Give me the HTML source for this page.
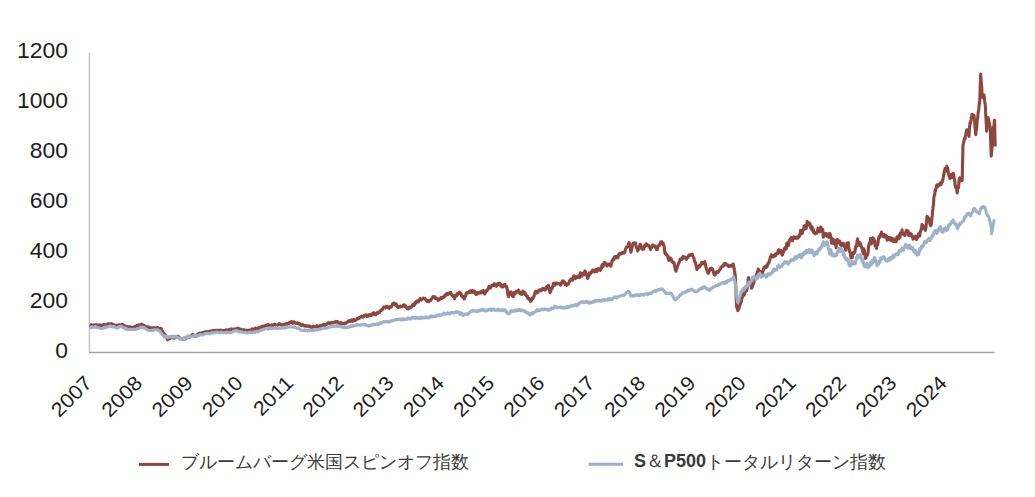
<!DOCTYPE html>
<html><head><meta charset="utf-8"><style>
html,body{margin:0;padding:0;background:#fff;}
body{width:1035px;height:497px;overflow:hidden;}
svg{display:block;font-family:"Liberation Sans",sans-serif;}
.yl text{font-size:22px;fill:#1e1e1e;}
.xl text{font-size:20px;fill:#1e1e1e;}
.lg{font-size:18px;fill:#3a3a3a;}
</style></head><body>
<svg width="1035" height="497" viewBox="0 0 1035 497">
<rect width="1035" height="497" fill="#fff"/>
<line x1="89.4" y1="53" x2="89.4" y2="352" stroke="#c4c4c4" stroke-width="1.5"/>
<line x1="89" y1="352.4" x2="994.5" y2="352.4" stroke="#a4a4a4" stroke-width="1.5"/>
<polyline fill="none" stroke="#8e463e" stroke-width="3.1" stroke-linejoin="round" stroke-linecap="butt" points="90.00,325.5 90.25,325.4 90.50,325.8 90.75,326.0 91.00,325.1 91.25,324.7 91.50,324.8 91.75,324.8 92.00,325.0 92.25,325.2 92.50,325.7 92.75,325.3 93.00,325.2 93.25,325.7 93.50,325.7 93.75,325.7 94.00,325.5 94.25,324.9 94.50,325.0 94.75,325.0 95.00,325.0 95.25,324.9 95.50,324.9 95.75,325.2 96.00,324.7 96.25,324.8 96.50,325.2 96.75,325.1 97.00,324.9 97.25,325.2 97.50,325.3 97.75,325.6 98.00,325.4 98.25,325.1 98.50,325.1 98.75,325.1 99.00,325.4 99.25,325.5 99.50,325.1 99.75,324.9 100.00,325.3 100.25,325.5 100.50,325.4 100.75,325.4 101.00,325.2 101.25,325.1 101.50,325.1 101.75,325.4 102.00,325.3 102.25,325.3 102.50,325.3 102.75,325.1 103.00,324.9 103.25,324.7 103.50,324.8 103.75,324.5 104.00,324.3 104.25,324.8 104.50,324.8 104.75,324.8 105.00,325.0 105.25,324.9 105.50,324.8 105.75,324.9 106.00,324.8 106.25,324.6 106.50,324.8 106.75,324.5 107.00,324.3 107.25,324.1 107.50,324.1 107.75,324.6 108.00,324.3 108.25,324.3 108.50,323.8 108.75,323.9 109.00,324.2 109.25,324.2 109.50,324.0 109.75,323.9 110.00,324.2 110.25,324.4 110.50,324.8 110.75,324.6 111.00,324.7 111.25,323.8 111.50,324.0 111.75,323.7 112.00,324.2 112.25,324.3 112.50,324.6 112.75,324.3 113.00,324.9 113.25,325.4 113.50,325.0 113.75,325.1 114.00,325.0 114.25,325.1 114.50,324.9 114.75,325.4 115.00,325.4 115.25,325.4 115.50,325.6 115.75,325.5 116.00,325.5 116.25,325.4 116.50,325.6 116.75,325.4 117.00,325.3 117.25,325.6 117.50,325.4 117.75,325.2 118.00,325.3 118.25,325.3 118.50,325.4 118.75,325.0 119.00,325.5 119.25,325.3 119.50,324.8 119.75,325.0 120.00,324.9 120.25,324.9 120.50,324.7 120.75,324.7 121.00,324.8 121.25,324.5 121.50,324.6 121.75,324.4 122.00,324.2 122.25,324.2 122.50,324.7 122.75,324.9 123.00,324.6 123.25,325.0 123.50,325.5 123.75,325.4 124.00,325.5 124.25,325.8 124.50,325.7 124.75,326.0 125.00,326.2 125.25,326.3 125.50,326.1 125.75,326.3 126.00,326.4 126.25,326.7 126.50,327.0 126.75,327.0 127.00,326.8 127.25,326.9 127.50,326.6 127.75,327.1 128.00,327.1 128.25,327.1 128.50,327.0 128.75,326.9 129.00,327.0 129.25,326.8 129.50,326.7 129.75,326.8 130.00,326.8 130.25,327.2 130.50,327.5 130.75,327.5 131.00,327.6 131.25,327.2 131.50,327.5 131.75,327.5 132.00,327.5 132.25,327.7 132.50,327.5 132.75,327.4 133.00,327.3 133.25,327.5 133.50,327.3 133.75,327.3 134.00,326.9 134.25,326.7 134.50,326.6 134.75,326.8 135.00,326.8 135.25,326.4 135.50,326.5 135.75,326.6 136.00,326.3 136.25,326.2 136.50,326.0 136.75,325.6 137.00,325.6 137.25,325.7 137.50,325.4 137.75,325.6 138.00,325.2 138.25,325.1 138.50,325.1 138.75,325.6 139.00,325.1 139.25,325.2 139.50,325.4 139.75,325.5 140.00,325.6 140.25,325.1 140.50,324.5 140.75,324.9 141.00,324.5 141.25,324.4 141.50,324.2 141.75,324.5 142.00,324.6 142.25,325.3 142.50,325.4 142.75,325.3 143.00,325.3 143.25,325.2 143.50,325.1 143.75,325.1 144.00,325.3 144.25,325.9 144.50,325.9 144.75,326.3 145.00,326.7 145.25,326.6 145.50,326.9 145.75,327.1 146.00,326.8 146.25,326.9 146.50,326.9 146.75,326.9 147.00,326.9 147.25,327.0 147.50,327.2 147.75,327.0 148.00,327.0 148.25,326.8 148.50,327.0 148.75,327.3 149.00,327.6 149.25,327.8 149.50,328.0 149.75,327.9 150.00,327.7 150.25,328.0 150.50,327.8 150.75,328.0 151.00,328.2 151.25,328.3 151.50,327.9 151.75,327.9 152.00,328.4 152.25,328.0 152.50,327.8 152.75,327.8 153.00,328.0 153.25,328.1 153.50,328.2 153.75,327.9 154.00,328.1 154.25,328.2 154.50,327.7 154.75,328.1 155.00,328.5 155.25,328.1 155.50,328.1 155.75,328.3 156.00,328.2 156.26,327.8 156.51,327.8 156.77,328.1 157.02,327.8 157.28,327.7 157.53,327.6 157.79,327.5 158.04,327.8 158.30,328.3 158.56,328.6 158.81,328.7 159.07,328.7 159.32,328.8 159.58,328.7 159.83,329.0 160.09,329.6 160.34,329.9 160.60,328.9 160.85,328.4 161.11,328.4 161.36,328.9 161.62,329.8 161.87,330.5 162.13,330.5 162.38,331.3 162.64,331.6 162.89,331.7 163.15,332.5 163.40,332.9 163.65,333.3 163.89,334.1 164.14,334.2 164.39,334.4 164.64,334.0 164.88,334.3 165.13,335.5 165.38,335.3 165.62,335.6 165.87,335.6 166.12,336.2 166.36,337.1 166.61,337.5 166.86,338.1 167.11,338.6 167.35,339.1 167.60,339.8 167.84,339.4 168.09,339.1 168.33,338.9 168.57,338.9 168.81,338.7 169.06,338.7 169.30,338.6 169.54,338.6 169.79,338.8 170.03,338.3 170.27,337.7 170.51,337.2 170.76,336.7 171.00,336.6 171.25,337.1 171.50,337.0 171.75,337.4 172.00,337.2 172.25,337.4 172.50,337.2 172.75,337.7 173.00,337.8 173.25,338.1 173.50,337.7 173.75,337.7 174.00,337.8 174.25,337.0 174.50,336.7 174.75,337.3 175.00,337.5 175.25,337.7 175.50,337.6 175.75,337.9 176.00,337.6 176.25,337.4 176.50,337.0 176.75,337.0 177.00,337.1 177.25,337.1 177.50,336.2 177.75,336.1 178.00,336.5 178.24,337.2 178.49,337.2 178.73,337.2 178.98,337.3 179.22,337.1 179.47,337.8 179.71,338.2 179.96,338.7 180.20,338.8 180.44,338.9 180.69,338.7 180.93,338.5 181.18,338.6 181.42,338.8 181.67,338.6 181.91,338.9 182.16,338.6 182.40,338.9 182.65,339.3 182.90,339.1 183.14,339.1 183.39,338.8 183.64,338.5 183.89,338.1 184.13,338.6 184.38,338.5 184.63,338.8 184.88,338.3 185.12,338.1 185.37,338.1 185.62,338.5 185.87,338.9 186.11,338.4 186.36,337.9 186.61,337.3 186.86,337.7 187.10,337.6 187.35,337.3 187.60,337.3 187.84,336.4 188.09,336.1 188.34,336.5 188.59,336.6 188.84,336.8 189.08,336.4 189.33,336.8 189.58,337.2 189.83,336.5 190.07,336.6 190.32,336.4 190.57,336.5 190.81,336.3 191.06,336.2 191.31,335.7 191.56,335.6 191.81,335.3 192.05,335.2 192.30,335.1 192.55,334.4 192.80,334.4 193.05,334.8 193.30,335.1 193.55,335.6 193.80,335.3 194.05,335.2 194.30,335.2 194.55,335.5 194.80,335.9 195.05,335.5 195.30,336.5 195.55,336.0 195.80,335.6 196.05,335.6 196.30,335.4 196.55,335.4 196.80,334.8 197.05,335.1 197.30,334.9 197.55,335.1 197.80,335.4 198.05,334.6 198.30,334.1 198.55,333.7 198.80,333.9 199.05,334.0 199.30,333.5 199.55,333.1 199.80,333.4 200.04,333.5 200.29,333.6 200.54,333.7 200.79,333.3 201.03,333.2 201.28,332.9 201.53,332.9 201.78,333.1 202.03,332.8 202.27,333.2 202.52,333.0 202.77,332.8 203.02,332.7 203.27,332.8 203.51,332.5 203.76,332.4 204.01,332.2 204.26,332.4 204.50,332.4 204.75,332.1 205.00,332.2 205.25,332.1 205.50,332.2 205.75,331.9 206.00,332.0 206.25,331.8 206.50,331.8 206.75,331.8 207.00,331.6 207.25,331.8 207.50,331.5 207.75,331.4 208.00,331.6 208.25,331.7 208.50,331.7 208.75,331.7 209.00,332.1 209.25,331.7 209.50,331.4 209.75,331.2 210.00,331.4 210.25,331.3 210.50,331.5 210.75,331.6 211.00,331.5 211.25,331.2 211.50,331.0 211.75,331.5 212.00,331.6 212.25,331.5 212.50,331.2 212.75,331.1 213.00,330.9 213.25,330.9 213.50,330.4 213.75,330.5 214.00,330.5 214.25,330.6 214.50,330.7 214.75,330.8 215.00,330.6 215.25,330.4 215.50,330.6 215.75,330.6 216.00,330.2 216.26,330.2 216.51,330.5 216.76,330.5 217.01,330.7 217.26,330.3 217.51,330.6 217.76,330.2 218.01,330.3 218.26,330.5 218.51,330.8 218.77,330.8 219.02,330.8 219.27,330.6 219.52,330.4 219.77,330.7 220.02,330.6 220.27,330.5 220.52,330.2 220.77,330.3 221.02,330.4 221.28,330.2 221.53,330.2 221.78,330.6 222.03,330.6 222.28,330.5 222.53,330.2 222.78,330.2 223.03,330.2 223.28,330.6 223.53,330.5 223.79,330.9 224.04,330.6 224.29,330.5 224.54,330.6 224.79,330.6 225.04,330.3 225.29,330.3 225.54,330.2 225.79,329.9 226.04,330.0 226.30,330.1 226.55,330.0 226.80,330.2 227.05,330.1 227.30,330.2 227.55,330.0 227.80,330.1 228.06,330.1 228.31,330.4 228.56,330.2 228.81,330.1 229.07,330.1 229.32,329.6 229.57,329.3 229.82,329.9 230.08,329.5 230.33,329.7 230.58,329.5 230.83,329.4 231.08,329.1 231.34,329.0 231.59,329.3 231.84,329.0 232.09,329.3 232.35,329.3 232.60,329.8 232.85,329.6 233.10,329.8 233.35,329.8 233.61,329.6 233.86,329.2 234.11,329.5 234.36,329.1 234.62,329.0 234.87,329.2 235.12,329.3 235.37,329.0 235.62,329.0 235.88,328.9 236.13,329.1 236.38,329.6 236.63,329.0 236.89,329.2 237.14,328.3 237.39,328.4 237.64,328.2 237.90,328.6 238.15,328.6 238.40,328.7 238.65,328.7 238.90,328.5 239.15,328.5 239.40,328.8 239.65,329.2 239.90,329.0 240.15,329.2 240.40,329.3 240.65,329.5 240.90,329.5 241.15,329.8 241.40,329.9 241.65,329.7 241.90,329.6 242.15,329.8 242.40,329.8 242.65,330.3 242.90,330.6 243.15,330.2 243.40,330.3 243.65,330.0 243.90,329.7 244.15,330.0 244.40,330.5 244.65,330.6 244.90,330.9 245.15,331.1 245.40,331.0 245.65,330.7 245.90,330.5 246.15,330.2 246.40,330.3 246.65,330.4 246.90,330.3 247.15,330.5 247.40,330.3 247.65,330.4 247.90,330.3 248.15,330.3 248.40,330.2 248.65,330.2 248.90,330.7 249.15,330.3 249.40,330.5 249.65,330.5 249.91,330.1 250.16,330.5 250.41,330.5 250.66,330.3 250.92,330.2 251.17,329.9 251.42,329.9 251.68,329.8 251.93,329.5 252.18,328.9 252.43,329.0 252.69,329.2 252.94,329.2 253.19,329.2 253.44,329.2 253.70,329.4 253.95,329.2 254.20,329.4 254.46,328.8 254.71,328.5 254.96,328.4 255.21,328.0 255.47,328.0 255.72,328.4 255.97,328.7 256.23,328.7 256.48,329.0 256.73,328.9 256.98,328.6 257.24,328.7 257.49,328.5 257.74,328.5 257.99,328.1 258.25,328.3 258.50,328.5 258.75,328.3 259.00,328.1 259.25,327.8 259.50,327.4 259.75,327.5 260.00,327.8 260.25,327.8 260.50,327.3 260.75,327.6 261.00,327.2 261.25,326.8 261.50,326.5 261.75,326.4 262.00,326.6 262.25,326.4 262.50,326.1 262.75,326.1 263.00,326.7 263.25,326.4 263.50,326.4 263.75,326.3 264.00,326.9 264.25,326.3 264.50,326.4 264.75,325.9 265.00,325.7 265.25,325.7 265.50,326.5 265.75,326.0 266.00,325.3 266.25,325.5 266.50,325.2 266.75,324.8 267.00,325.1 267.25,325.4 267.50,325.3 267.75,324.8 268.00,325.0 268.25,325.2 268.50,324.6 268.75,324.8 269.00,325.4 269.25,325.5 269.50,325.6 269.75,325.6 270.00,325.8 270.25,325.5 270.50,325.3 270.75,325.4 271.00,325.3 271.25,325.3 271.50,324.8 271.75,325.1 272.00,325.3 272.25,325.3 272.50,325.3 272.75,325.7 273.00,325.2 273.25,324.9 273.50,324.6 273.75,324.6 274.00,324.4 274.25,324.5 274.50,324.5 274.75,324.3 275.00,324.6 275.25,324.8 275.50,324.7 275.75,325.0 276.00,325.2 276.25,325.1 276.50,325.3 276.75,325.6 277.00,325.5 277.25,325.3 277.50,325.0 277.75,324.7 278.00,324.7 278.25,324.6 278.50,324.5 278.75,324.2 279.00,323.8 279.25,323.7 279.50,323.9 279.75,323.7 280.00,323.7 280.25,324.2 280.50,324.6 280.75,324.5 281.00,324.8 281.25,324.6 281.50,325.0 281.75,324.7 282.00,324.7 282.25,325.1 282.50,324.8 282.75,325.1 283.00,325.0 283.25,324.9 283.50,324.7 283.75,324.7 284.00,324.8 284.25,324.8 284.50,324.4 284.75,324.1 285.00,324.4 285.25,324.1 285.50,324.0 285.75,323.9 286.00,323.8 286.25,323.5 286.50,323.3 286.75,324.0 287.00,324.2 287.25,324.0 287.50,323.8 287.75,323.8 288.00,323.6 288.25,323.9 288.50,323.6 288.75,323.3 289.00,323.3 289.25,323.0 289.50,322.3 289.75,322.5 290.00,322.5 290.25,322.6 290.50,322.4 290.75,322.5 291.00,322.6 291.25,322.1 291.50,321.5 291.75,321.7 292.00,322.1 292.25,322.8 292.50,322.8 292.75,323.3 293.00,323.0 293.25,322.4 293.50,322.1 293.75,321.9 294.00,321.8 294.25,322.0 294.50,322.6 294.75,322.9 295.00,323.1 295.25,323.0 295.50,322.9 295.75,322.9 296.00,323.2 296.25,323.3 296.50,323.4 296.75,323.4 297.00,322.9 297.25,322.9 297.50,322.8 297.75,323.4 298.00,323.3 298.25,323.5 298.50,323.9 298.75,323.9 299.00,323.7 299.25,323.7 299.50,323.4 299.75,323.6 300.00,324.1 300.25,324.8 300.50,324.6 300.75,324.8 301.00,325.1 301.25,325.5 301.50,325.3 301.75,324.8 302.00,324.8 302.25,324.5 302.50,324.6 302.75,325.0 303.00,324.6 303.25,324.7 303.50,325.0 303.75,325.5 304.00,325.9 304.25,326.0 304.50,325.7 304.75,325.6 305.00,326.0 305.25,325.8 305.50,325.7 305.75,326.1 306.00,325.9 306.25,326.0 306.50,326.1 306.75,326.2 307.00,326.0 307.25,326.1 307.50,326.1 307.75,326.2 308.00,325.8 308.25,326.0 308.50,326.1 308.75,326.5 309.00,326.7 309.25,326.3 309.50,326.1 309.75,326.5 310.00,326.2 310.25,326.6 310.50,326.5 310.75,327.1 311.00,327.0 311.25,327.3 311.50,327.4 311.75,327.2 312.00,327.1 312.25,326.9 312.50,327.2 312.75,326.8 313.00,326.6 313.25,326.5 313.50,326.6 313.75,326.4 314.00,326.3 314.25,326.6 314.50,326.4 314.75,326.6 315.00,327.1 315.25,327.2 315.50,326.6 315.75,326.7 316.00,326.6 316.25,326.6 316.50,326.0 316.75,326.1 317.00,325.7 317.25,326.1 317.50,326.3 317.75,326.8 318.00,326.3 318.25,326.5 318.50,326.3 318.75,326.0 319.00,326.0 319.25,325.9 319.50,326.1 319.75,326.1 320.00,326.0 320.25,325.6 320.50,325.7 320.75,326.2 321.00,326.1 321.25,325.9 321.50,325.8 321.75,325.4 322.00,325.4 322.25,325.1 322.50,325.1 322.75,325.0 323.00,324.7 323.25,325.0 323.50,324.5 323.75,324.6 324.00,324.3 324.25,324.9 324.50,325.4 324.75,325.4 325.00,325.6 325.25,325.1 325.50,324.8 325.75,324.8 326.00,324.7 326.25,324.6 326.50,324.4 326.75,324.1 327.00,323.9 327.25,324.0 327.50,323.2 327.75,323.6 328.00,323.4 328.25,323.0 328.50,323.2 328.75,322.7 329.00,322.9 329.25,322.9 329.50,323.0 329.75,323.2 330.00,323.5 330.25,323.1 330.50,322.9 330.75,322.8 331.00,322.5 331.25,322.6 331.50,322.6 331.75,322.8 332.00,323.1 332.25,323.0 332.50,323.1 332.75,322.6 333.00,322.5 333.25,322.9 333.50,322.8 333.75,322.4 334.00,322.3 334.25,322.1 334.50,322.0 334.75,321.8 335.00,322.3 335.25,322.0 335.50,321.7 335.75,321.5 336.00,322.1 336.25,321.9 336.50,322.2 336.75,322.1 337.00,321.5 337.25,322.2 337.50,321.6 337.75,321.8 338.00,322.4 338.25,322.7 338.50,323.0 338.75,322.7 339.00,322.7 339.25,323.6 339.50,323.3 339.75,323.2 340.00,323.0 340.25,322.9 340.50,323.0 340.75,323.4 341.00,323.1 341.25,322.7 341.50,322.8 341.75,322.9 342.00,323.3 342.25,323.5 342.50,323.3 342.75,323.5 343.00,323.8 343.25,323.8 343.50,323.7 343.75,323.9 344.00,323.7 344.25,323.3 344.50,323.8 344.75,323.5 345.00,323.5 345.25,323.2 345.50,322.9 345.75,323.0 346.00,323.2 346.25,322.6 346.50,322.6 346.75,322.4 347.00,322.1 347.25,322.3 347.50,322.1 347.75,321.9 348.00,321.9 348.25,321.2 348.50,320.9 348.75,320.8 349.00,321.1 349.25,321.2 349.50,321.5 349.75,321.5 350.00,321.3 350.25,321.2 350.50,320.9 350.75,320.3 351.00,320.3 351.25,320.0 351.50,320.9 351.75,321.3 352.00,321.3 352.25,320.8 352.50,321.3 352.75,320.4 353.00,320.1 353.25,319.8 353.50,319.5 353.75,319.7 354.00,319.8 354.25,320.4 354.50,320.4 354.75,320.7 355.00,320.5 355.25,320.3 355.50,320.0 355.75,319.9 356.00,319.9 356.25,319.8 356.50,319.6 356.75,319.1 357.00,318.6 357.25,318.7 357.50,318.4 357.75,318.5 358.00,318.8 358.25,318.2 358.50,318.1 358.75,317.8 359.00,318.3 359.25,318.2 359.50,317.7 359.75,317.6 360.00,317.1 360.25,316.9 360.50,316.8 360.75,316.9 361.00,316.5 361.25,316.2 361.50,316.8 361.75,316.6 362.00,317.1 362.25,317.0 362.50,316.3 362.75,316.7 363.00,317.1 363.25,316.8 363.50,316.0 363.75,316.2 364.00,316.1 364.25,316.3 364.50,315.4 364.75,315.8 365.00,315.0 365.25,315.1 365.50,315.5 365.75,315.1 366.00,314.8 366.25,315.0 366.50,315.9 366.75,316.4 367.00,316.1 367.25,316.3 367.50,316.4 367.75,316.1 368.00,315.3 368.25,315.2 368.50,314.9 368.75,314.8 369.00,314.8 369.25,315.2 369.50,315.5 369.75,315.3 370.00,314.7 370.25,314.5 370.50,314.6 370.75,315.0 371.00,315.3 371.25,315.2 371.50,314.7 371.75,314.3 372.00,314.2 372.25,314.6 372.50,313.5 372.75,313.7 373.00,313.1 373.25,313.3 373.50,313.8 373.75,313.4 374.00,312.8 374.25,313.5 374.50,314.0 374.75,314.1 375.00,314.4 375.25,314.0 375.50,314.3 375.75,314.7 376.00,314.4 376.25,313.9 376.50,313.6 376.75,313.3 377.00,312.9 377.25,312.6 377.50,312.7 377.75,313.3 378.00,312.7 378.25,312.8 378.50,312.0 378.75,312.6 379.00,312.1 379.25,312.0 379.50,312.2 379.75,312.2 380.00,311.1 380.25,310.9 380.50,310.6 380.75,310.7 381.00,310.4 381.25,310.5 381.50,310.4 381.75,309.9 382.00,309.3 382.25,309.9 382.50,308.8 382.75,308.9 383.00,308.7 383.25,308.4 383.50,307.7 383.75,307.2 384.00,307.7 384.25,307.4 384.50,307.6 384.75,307.8 385.00,307.8 385.25,307.9 385.50,307.0 385.75,306.7 386.00,307.0 386.25,306.4 386.50,307.1 386.75,306.6 387.00,306.5 387.26,306.9 387.51,306.5 387.77,307.3 388.02,307.8 388.28,307.9 388.53,308.0 388.79,308.2 389.04,308.4 389.30,308.1 389.55,307.2 389.79,307.5 390.04,307.2 390.29,307.4 390.54,307.1 390.78,306.5 391.03,306.4 391.28,306.9 391.53,306.5 391.77,305.8 392.02,305.2 392.27,304.8 392.52,304.2 392.76,303.6 393.01,303.9 393.26,304.5 393.51,304.2 393.75,304.3 394.00,303.1 394.25,303.7 394.50,304.5 394.75,304.4 395.00,304.5 395.25,304.4 395.50,305.2 395.75,304.0 396.00,304.2 396.25,303.9 396.50,304.6 396.75,305.6 397.00,306.4 397.25,306.7 397.50,306.8 397.75,306.5 398.00,307.2 398.25,307.5 398.50,307.2 398.75,306.7 399.00,306.5 399.25,306.9 399.49,306.9 399.74,307.2 399.99,307.1 400.24,306.5 400.48,306.0 400.73,306.3 400.98,306.5 401.22,306.6 401.47,306.5 401.72,306.7 401.96,306.4 402.21,306.4 402.46,306.4 402.71,305.9 402.95,305.6 403.20,305.2 403.45,305.0 403.69,305.7 403.94,305.4 404.19,304.9 404.44,305.1 404.68,306.2 404.93,306.5 405.18,306.9 405.42,305.9 405.67,305.9 405.92,306.6 406.16,306.5 406.41,307.4 406.66,307.7 406.91,307.8 407.15,308.5 407.40,308.8 407.64,308.8 407.89,308.5 408.13,308.5 408.38,308.8 408.62,308.3 408.87,308.2 409.12,308.2 409.36,307.0 409.61,307.0 409.85,307.1 410.09,307.4 410.34,307.1 410.58,307.5 410.83,306.9 411.07,306.7 411.32,307.4 411.56,306.5 411.81,306.4 412.06,306.3 412.30,305.7 412.55,305.5 412.79,304.6 413.04,304.8 413.29,304.5 413.53,305.3 413.78,305.7 414.03,305.1 414.27,305.2 414.52,305.0 414.77,304.0 415.01,302.7 415.26,303.2 415.51,303.3 415.75,302.2 416.00,301.6 416.25,301.7 416.50,302.0 416.75,301.9 417.00,301.4 417.25,301.0 417.50,301.6 417.75,301.1 418.00,300.9 418.25,302.0 418.50,301.8 418.75,301.3 419.00,300.0 419.25,300.3 419.50,299.5 419.75,299.6 420.00,299.2 420.25,298.4 420.50,299.5 420.75,299.4 421.00,299.9 421.25,300.1 421.50,299.4 421.75,299.3 422.00,298.9 422.25,299.1 422.50,298.9 422.75,298.5 423.00,298.5 423.25,298.0 423.50,298.3 423.75,298.4 424.00,298.6 424.25,298.7 424.50,298.5 424.75,298.4 425.00,299.1 425.25,298.9 425.50,299.3 425.75,299.7 426.00,299.9 426.25,300.2 426.50,300.6 426.75,300.2 427.00,300.3 427.25,301.5 427.50,300.9 427.75,300.7 428.00,300.6 428.25,301.7 428.50,301.1 428.75,301.3 429.00,301.7 429.25,301.5 429.50,300.9 429.75,300.9 430.00,300.4 430.25,300.6 430.50,300.4 430.75,300.4 431.00,299.9 431.25,298.8 431.50,299.1 431.75,298.5 432.00,298.2 432.25,298.2 432.50,297.6 432.75,297.7 433.00,296.7 433.25,297.5 433.50,296.9 433.75,297.1 434.00,297.6 434.25,296.7 434.51,297.1 434.76,297.0 435.01,296.8 435.26,297.8 435.52,298.6 435.77,298.2 436.02,298.5 436.27,298.1 436.53,298.3 436.78,298.4 437.03,298.4 437.28,299.1 437.54,298.8 437.79,299.7 438.04,300.3 438.29,300.1 438.55,299.9 438.80,300.1 439.05,299.5 439.29,298.8 439.54,298.9 439.78,298.8 440.02,298.5 440.27,299.0 440.51,298.1 440.76,297.7 441.00,297.8 441.25,298.3 441.50,298.5 441.74,298.5 441.99,297.2 442.23,297.5 442.48,297.5 442.72,297.6 442.96,297.2 443.21,297.3 443.45,297.5 443.70,297.3 443.95,297.4 444.20,297.0 444.45,296.1 444.70,296.1 444.95,295.0 445.20,295.5 445.45,295.5 445.70,295.4 445.95,294.9 446.20,295.2 446.45,293.9 446.70,293.5 446.95,293.8 447.20,293.4 447.45,294.4 447.70,294.4 447.95,293.7 448.20,294.3 448.45,294.1 448.70,294.0 448.95,293.5 449.20,293.0 449.45,293.1 449.70,292.7 449.95,292.8 450.21,292.5 450.46,292.5 450.71,292.4 450.96,293.8 451.22,294.3 451.47,294.2 451.72,294.8 451.97,295.3 452.23,295.5 452.48,295.3 452.73,295.4 452.98,295.8 453.24,296.6 453.49,296.5 453.74,296.0 453.99,297.4 454.25,297.9 454.50,298.7 454.75,297.9 454.99,297.4 455.24,296.4 455.48,296.4 455.73,295.3 455.97,295.3 456.21,295.0 456.46,296.1 456.70,295.5 456.95,294.9 457.19,294.2 457.44,293.3 457.69,293.9 457.93,294.3 458.17,293.8 458.42,293.7 458.66,293.0 458.91,293.0 459.15,292.7 459.40,292.2 459.65,292.4 459.91,293.2 460.16,293.8 460.41,293.7 460.66,293.8 460.92,293.4 461.17,294.1 461.42,295.0 461.67,296.3 461.93,296.0 462.18,296.2 462.43,296.4 462.68,297.2 462.94,297.3 463.19,297.1 463.44,296.4 463.69,297.3 463.95,298.1 464.20,299.0 464.44,298.5 464.68,298.0 464.92,297.2 465.16,296.6 465.40,296.2 465.64,296.0 465.88,294.6 466.12,293.7 466.36,294.2 466.60,293.1 466.85,293.3 467.09,292.3 467.34,292.6 467.58,292.7 467.83,293.0 468.08,292.9 468.32,292.8 468.57,292.8 468.82,292.8 469.06,291.9 469.31,291.9 469.55,291.2 469.80,291.3 470.05,291.7 470.29,290.8 470.54,291.2 470.79,292.3 471.03,291.4 471.28,291.7 471.53,292.0 471.77,292.1 472.02,291.9 472.27,290.5 472.51,291.5 472.76,291.8 473.01,291.8 473.25,292.6 473.50,291.8 473.75,291.5 474.00,291.0 474.25,291.1 474.50,291.9 474.75,291.8 475.00,292.0 475.25,293.1 475.50,293.6 475.75,294.0 476.00,294.4 476.25,293.8 476.50,293.9 476.75,292.8 477.00,293.9 477.25,293.7 477.50,294.0 477.75,292.6 478.00,293.1 478.25,293.2 478.50,293.0 478.75,292.6 479.00,293.1 479.25,292.5 479.50,293.0 479.75,292.3 480.00,292.1 480.25,292.2 480.50,293.0 480.75,292.6 481.00,292.2 481.25,291.9 481.50,291.5 481.75,291.2 482.00,292.1 482.25,292.4 482.50,291.5 482.75,291.2 483.00,291.4 483.25,290.6 483.50,290.7 483.75,290.7 484.00,291.4 484.25,292.7 484.50,293.1 484.75,294.0 485.00,293.5 485.25,293.1 485.50,292.0 485.75,291.4 486.00,291.4 486.25,291.6 486.50,290.7 486.75,291.1 487.00,290.0 487.25,290.3 487.50,289.7 487.75,289.7 488.00,289.3 488.25,288.5 488.50,288.3 488.75,287.0 489.00,286.3 489.25,286.4 489.50,286.3 489.75,288.1 490.00,288.1 490.25,286.9 490.50,286.8 490.75,287.6 491.00,286.6 491.25,286.0 491.50,286.0 491.75,285.9 492.00,285.5 492.25,285.7 492.50,284.9 492.75,284.9 493.00,284.8 493.25,284.8 493.50,285.0 493.75,285.4 494.00,284.7 494.25,283.8 494.49,284.1 494.74,284.4 494.98,284.8 495.23,285.1 495.47,285.8 495.72,285.1 495.96,284.7 496.21,286.0 496.45,286.3 496.70,285.7 496.95,284.3 497.19,283.7 497.44,283.7 497.68,283.8 497.93,283.9 498.17,283.8 498.42,284.7 498.66,283.9 498.91,283.8 499.15,283.5 499.40,283.6 499.65,283.4 499.89,283.5 500.14,285.0 500.39,284.3 500.64,284.3 500.88,286.2 501.13,285.7 501.38,285.5 501.62,286.2 501.87,285.9 502.12,286.0 502.36,286.2 502.61,287.1 502.86,285.8 503.11,285.6 503.35,285.9 503.60,284.7 503.86,285.4 504.12,284.8 504.38,284.8 504.63,284.8 504.89,284.4 505.15,285.6 505.41,286.1 505.67,286.5 505.93,286.8 506.18,286.2 506.44,286.8 506.70,286.8 506.94,287.5 507.18,289.6 507.42,291.0 507.66,292.5 507.90,295.3 508.15,295.4 508.40,295.4 508.65,296.6 508.90,295.8 509.15,295.3 509.40,293.8 509.65,292.3 509.90,292.2 510.15,292.5 510.40,292.9 510.65,293.0 510.90,292.2 511.16,291.9 511.41,292.6 511.67,294.6 511.93,295.0 512.19,294.9 512.44,295.8 512.70,296.5 512.95,296.4 513.21,296.6 513.46,296.5 513.71,295.2 513.96,294.3 514.22,292.6 514.47,293.2 514.72,293.4 514.98,294.0 515.23,293.7 515.48,292.6 515.74,293.0 515.99,291.9 516.24,291.8 516.49,291.2 516.75,291.4 517.00,291.8 517.25,292.0 517.51,291.9 517.76,291.2 518.01,291.3 518.26,291.1 518.52,290.1 518.77,292.2 519.02,292.6 519.27,292.8 519.53,292.2 519.78,292.0 520.03,293.7 520.28,293.9 520.54,293.0 520.79,293.4 521.04,294.0 521.29,294.3 521.55,294.0 521.80,294.2 522.06,293.4 522.31,292.6 522.57,292.3 522.83,291.1 523.09,291.1 523.34,292.0 523.60,292.6 523.86,293.5 524.11,293.3 524.37,293.3 524.63,292.9 524.89,292.5 525.14,292.7 525.40,294.6 525.64,294.4 525.88,294.9 526.12,295.6 526.36,295.3 526.60,295.9 526.84,295.7 527.08,296.0 527.32,296.2 527.56,297.7 527.80,298.0 528.05,298.7 528.30,298.4 528.55,297.9 528.80,298.1 529.05,298.9 529.30,299.6 529.55,299.3 529.80,298.6 530.05,299.7 530.30,300.4 530.55,301.5 530.80,300.8 531.05,300.5 531.29,299.9 531.54,300.4 531.79,298.8 532.04,298.8 532.28,298.4 532.53,297.9 532.78,298.5 533.02,298.6 533.27,297.5 533.52,297.5 533.76,296.5 534.01,296.4 534.26,294.7 534.51,294.4 534.75,293.9 535.00,292.7 535.25,291.8 535.49,291.5 535.74,291.3 535.98,292.0 536.23,292.0 536.47,292.4 536.72,293.1 536.96,292.8 537.21,292.7 537.45,292.0 537.69,292.3 537.94,292.1 538.18,291.9 538.43,291.1 538.67,290.6 538.92,290.1 539.16,290.3 539.41,290.9 539.65,289.7 539.90,289.9 540.15,290.7 540.41,290.3 540.66,290.5 540.91,290.5 541.16,290.7 541.42,289.5 541.67,290.2 541.92,290.1 542.17,289.3 542.43,289.6 542.68,288.5 542.93,288.3 543.18,288.5 543.44,289.5 543.69,289.4 543.94,289.4 544.19,289.3 544.45,289.7 544.70,290.0 544.96,290.1 545.21,289.7 545.47,289.3 545.73,289.4 545.99,287.9 546.24,287.1 546.50,287.2 546.76,286.7 547.01,287.7 547.27,286.9 547.53,286.6 547.79,286.8 548.04,287.4 548.30,285.4 548.56,286.0 548.81,287.4 549.07,289.7 549.33,289.2 549.59,289.9 549.84,291.9 550.10,292.7 550.36,292.1 550.62,291.6 550.88,290.8 551.13,289.9 551.39,289.0 551.65,288.1 551.91,287.7 552.17,287.3 552.43,288.0 552.68,286.9 552.94,286.2 553.20,283.6 553.45,283.7 553.70,283.3 553.95,283.2 554.20,283.9 554.45,284.7 554.70,284.7 554.95,285.1 555.20,284.1 555.45,284.2 555.70,284.1 555.95,283.2 556.20,283.9 556.45,283.5 556.70,283.8 556.95,283.2 557.20,283.4 557.45,283.6 557.70,283.6 557.95,283.4 558.20,283.7 558.45,283.7 558.70,283.5 558.95,283.5 559.20,283.9 559.46,283.9 559.71,283.9 559.97,283.9 560.23,284.6 560.49,285.2 560.74,285.0 561.00,284.2 561.26,282.9 561.51,282.6 561.77,282.2 562.03,283.1 562.29,281.6 562.54,281.0 562.80,280.8 563.06,281.2 563.31,281.9 563.57,281.0 563.83,281.6 564.09,281.7 564.34,282.1 564.60,282.0 564.86,283.3 565.11,284.8 565.37,284.3 565.63,284.4 565.89,283.6 566.14,283.6 566.40,283.9 566.64,285.4 566.89,284.5 567.13,284.2 567.38,284.6 567.62,284.6 567.87,283.7 568.12,284.4 568.36,283.7 568.61,283.9 568.85,283.0 569.09,282.7 569.34,281.3 569.58,281.6 569.83,280.6 570.07,280.2 570.32,280.6 570.56,279.8 570.81,279.6 571.05,279.1 571.30,279.3 571.55,278.8 571.80,279.7 572.05,279.0 572.30,279.2 572.55,279.9 572.80,280.3 573.05,279.0 573.30,278.6 573.55,277.1 573.80,275.9 574.05,275.8 574.30,276.5 574.55,277.5 574.80,277.2 575.05,278.5 575.30,278.3 575.55,278.5 575.80,277.7 576.05,276.5 576.30,277.4 576.55,276.9 576.80,277.6 577.05,277.1 577.30,277.5 577.55,277.4 577.80,276.9 578.05,276.6 578.30,277.3 578.55,276.3 578.80,275.6 579.05,276.7 579.30,277.5 579.55,277.6 579.79,276.3 580.04,274.4 580.28,272.8 580.53,273.7 580.78,274.0 581.02,275.1 581.27,275.3 581.52,276.2 581.76,276.0 582.01,274.5 582.25,274.2 582.50,273.6 582.75,273.8 582.99,273.0 583.24,274.7 583.48,274.4 583.73,274.9 583.97,274.3 584.22,274.3 584.46,272.6 584.71,272.1 584.95,270.9 585.19,272.5 585.44,272.0 585.68,271.8 585.93,273.6 586.17,273.6 586.42,274.1 586.66,275.5 586.91,276.0 587.15,276.1 587.40,277.2 587.65,278.4 587.91,278.1 588.16,277.9 588.41,275.9 588.66,275.4 588.92,274.4 589.17,274.0 589.42,272.9 589.67,273.6 589.93,274.3 590.18,274.1 590.43,273.5 590.68,273.1 590.94,272.8 591.19,272.8 591.44,271.8 591.69,272.4 591.95,271.5 592.20,270.6 592.45,270.2 592.71,270.7 592.96,270.2 593.21,270.1 593.47,270.4 593.72,271.4 593.97,271.0 594.23,271.0 594.48,271.3 594.73,271.8 594.98,271.1 595.24,270.6 595.49,269.9 595.74,270.0 596.00,270.1 596.25,269.7 596.50,270.1 596.76,271.6 597.01,271.5 597.26,269.4 597.52,270.3 597.77,270.2 598.02,268.9 598.27,269.8 598.53,269.2 598.78,269.7 599.03,268.7 599.29,269.7 599.54,269.5 599.79,269.8 600.05,270.1 600.30,270.5 600.55,269.1 600.79,267.8 601.04,268.4 601.28,268.4 601.53,268.3 601.78,266.3 602.02,265.0 602.27,265.6 602.52,264.5 602.76,265.6 603.01,266.6 603.25,266.2 603.50,264.8 603.75,263.9 604.00,262.7 604.25,262.6 604.50,262.5 604.75,263.6 605.00,262.6 605.25,263.2 605.50,264.1 605.75,263.9 606.00,264.6 606.25,263.9 606.50,264.4 606.75,264.5 607.00,266.0 607.25,265.1 607.50,264.6 607.75,264.8 608.00,264.2 608.25,264.4 608.50,264.3 608.75,265.0 609.00,264.0 609.25,264.0 609.50,263.9 609.75,264.2 610.00,264.3 610.25,264.3 610.49,265.8 610.74,266.2 610.99,265.9 611.24,264.3 611.48,263.5 611.73,262.6 611.98,261.0 612.23,261.2 612.47,260.4 612.72,260.3 612.97,259.1 613.22,259.1 613.46,260.0 613.71,259.7 613.96,259.5 614.21,257.9 614.45,256.9 614.70,256.7 614.95,257.2 615.20,257.8 615.46,257.0 615.71,256.5 615.96,256.8 616.21,256.5 616.47,257.3 616.72,257.7 616.97,257.5 617.22,257.8 617.48,257.4 617.73,257.7 617.98,257.2 618.23,255.8 618.49,255.0 618.74,254.6 618.99,254.5 619.24,254.6 619.50,253.5 619.75,253.4 620.00,253.5 620.25,253.3 620.51,253.4 620.76,253.7 621.01,254.0 621.26,254.0 621.52,253.2 621.77,253.0 622.02,252.9 622.27,252.5 622.53,253.0 622.78,252.7 623.03,252.8 623.28,253.1 623.54,252.8 623.79,252.5 624.04,252.9 624.29,252.7 624.55,252.6 624.80,252.5 625.04,250.8 625.28,250.0 625.52,249.1 625.76,248.9 626.00,248.1 626.24,248.1 626.48,247.4 626.72,246.8 626.96,247.0 627.20,247.0 627.46,246.8 627.73,246.2 627.99,245.4 628.25,244.7 628.51,243.8 628.77,243.9 629.04,242.6 629.30,242.8 629.57,244.4 629.83,245.9 630.10,247.0 630.37,248.5 630.63,250.5 630.90,252.3 631.15,250.8 631.40,250.5 631.65,248.5 631.90,248.2 632.15,247.2 632.40,246.2 632.65,245.3 632.90,243.6 633.14,244.1 633.38,243.8 633.62,243.8 633.86,243.0 634.10,242.9 634.34,243.2 634.58,243.3 634.82,243.3 635.06,243.1 635.30,243.1 635.54,242.9 635.78,244.7 636.02,246.0 636.26,246.4 636.50,247.5 636.74,248.2 636.98,248.2 637.22,249.1 637.46,250.3 637.70,251.1 637.94,250.4 638.18,250.0 638.42,249.4 638.66,248.6 638.90,248.3 639.14,248.5 639.38,247.0 639.62,246.1 639.86,245.3 640.10,244.2 640.34,245.0 640.58,245.2 640.82,246.0 641.06,246.5 641.30,246.8 641.54,248.0 641.78,247.6 642.02,248.3 642.26,248.9 642.50,249.5 642.74,248.4 642.98,248.9 643.22,248.2 643.46,247.9 643.70,249.2 643.94,248.0 644.18,246.6 644.42,245.7 644.66,246.4 644.90,246.0 645.15,246.2 645.41,245.2 645.66,245.0 645.92,244.6 646.17,243.8 646.42,244.5 646.68,244.6 646.93,245.1 647.18,245.4 647.44,244.6 647.69,245.6 647.95,245.7 648.20,245.8 648.44,245.4 648.68,245.6 648.92,246.3 649.16,245.7 649.40,246.9 649.64,247.3 649.88,248.1 650.12,248.4 650.36,248.7 650.60,249.5 650.84,248.9 651.08,248.2 651.32,247.9 651.56,247.3 651.80,247.1 652.04,246.6 652.28,246.0 652.52,245.5 652.76,244.9 653.00,245.1 653.25,245.2 653.49,246.0 653.74,245.9 653.98,246.1 654.23,246.3 654.48,246.2 654.72,245.9 654.97,246.0 655.22,246.0 655.46,247.3 655.71,247.7 655.95,248.0 656.20,248.3 656.44,249.4 656.68,249.4 656.92,249.1 657.16,249.6 657.40,249.1 657.64,248.0 657.88,246.4 658.12,246.6 658.36,245.6 658.60,245.5 658.85,245.1 659.09,244.8 659.34,244.9 659.58,244.7 659.83,245.0 660.08,244.1 660.32,243.5 660.57,242.4 660.82,241.9 661.06,242.5 661.31,242.4 661.55,242.7 661.80,241.8 662.05,242.0 662.30,243.5 662.55,243.3 662.80,243.1 663.05,243.2 663.30,243.5 663.55,244.9 663.80,245.2 664.04,245.9 664.28,247.8 664.52,250.6 664.76,251.9 665.00,253.5 665.25,253.5 665.50,253.0 665.75,253.7 666.00,254.7 666.25,254.7 666.50,254.5 666.75,254.8 667.00,255.1 667.25,255.8 667.50,255.7 667.77,255.8 668.03,257.8 668.30,258.8 668.57,259.5 668.83,260.4 669.10,259.5 669.37,258.8 669.63,258.6 669.90,258.5 670.17,258.3 670.43,257.8 670.70,258.7 670.97,259.0 671.23,258.9 671.50,260.3 671.77,260.9 672.03,261.6 672.30,261.8 672.57,261.7 672.83,262.4 673.10,262.8 673.37,262.4 673.63,262.9 673.90,262.5 674.17,263.5 674.43,265.2 674.70,266.3 674.97,267.7 675.23,269.1 675.50,270.3 675.74,270.5 675.98,271.2 676.22,270.4 676.46,268.8 676.70,268.8 676.94,268.4 677.18,267.7 677.42,266.1 677.66,265.7 677.90,265.3 678.16,264.3 678.42,263.9 678.69,263.3 678.95,263.0 679.21,262.3 679.48,262.1 679.74,260.6 680.00,259.4 680.25,259.5 680.49,259.5 680.74,259.2 680.98,258.9 681.23,259.0 681.48,258.7 681.72,258.4 681.97,259.3 682.22,258.8 682.46,257.6 682.71,257.0 682.95,256.5 683.20,257.0 683.45,257.8 683.69,257.5 683.94,257.8 684.18,257.8 684.43,257.6 684.68,257.1 684.92,257.0 685.17,257.2 685.42,257.6 685.66,258.0 685.91,258.9 686.15,258.6 686.40,259.4 686.66,258.5 686.91,258.0 687.17,258.3 687.42,257.4 687.68,257.1 687.94,257.0 688.19,257.2 688.45,255.8 688.71,255.7 688.96,255.2 689.22,255.6 689.48,255.4 689.73,255.0 689.99,255.3 690.24,255.4 690.50,255.0 690.74,254.6 690.98,254.4 691.22,255.0 691.46,254.9 691.70,255.1 691.94,254.9 692.18,254.3 692.42,254.4 692.66,255.5 692.90,255.9 693.14,256.4 693.38,257.1 693.62,257.6 693.86,258.1 694.10,258.7 694.34,260.1 694.58,261.1 694.82,261.5 695.06,262.3 695.30,262.4 695.57,262.9 695.83,263.8 696.10,265.7 696.37,267.0 696.63,268.2 696.90,269.5 697.14,268.8 697.38,268.7 697.62,267.8 697.86,268.3 698.10,267.6 698.34,267.1 698.58,266.4 698.82,266.1 699.06,265.7 699.30,266.1 699.54,266.0 699.78,266.8 700.02,265.2 700.26,265.5 700.50,264.9 700.74,264.1 700.98,264.0 701.22,263.8 701.46,263.4 701.70,262.5 701.95,262.3 702.19,263.2 702.44,263.3 702.68,263.9 702.93,263.7 703.18,263.8 703.42,263.6 703.67,263.1 703.92,263.2 704.16,262.6 704.41,262.9 704.65,261.8 704.90,261.7 705.17,264.1 705.43,264.0 705.70,266.1 705.97,267.3 706.23,267.6 706.50,269.3 706.74,269.8 706.99,270.2 707.23,271.0 707.47,271.5 707.71,272.3 707.96,272.5 708.20,273.5 708.44,272.9 708.68,272.2 708.92,271.4 709.16,271.6 709.40,271.0 709.64,270.2 709.88,269.1 710.12,268.7 710.36,268.8 710.60,268.8 710.87,269.4 711.13,268.6 711.40,268.2 711.67,269.0 711.93,268.7 712.20,268.8 712.44,269.0 712.68,269.6 712.92,270.1 713.16,271.0 713.40,272.1 713.64,272.9 713.88,273.7 714.12,274.0 714.36,274.6 714.60,274.6 714.85,275.2 715.09,275.1 715.34,274.2 715.58,273.6 715.83,272.3 716.08,272.3 716.32,272.8 716.57,271.9 716.82,272.1 717.06,272.1 717.31,272.7 717.55,272.0 717.80,271.6 718.05,271.7 718.30,272.1 718.55,271.8 718.80,271.4 719.05,270.6 719.30,270.5 719.55,270.0 719.80,269.8 720.05,269.1 720.30,269.4 720.55,268.7 720.80,267.7 721.05,267.6 721.30,267.1 721.55,267.2 721.80,266.6 722.05,266.2 722.29,266.6 722.54,266.5 722.78,266.0 723.03,265.6 723.28,265.9 723.52,265.7 723.77,264.9 724.02,264.0 724.26,264.2 724.51,263.4 724.75,264.2 725.00,264.1 725.25,263.7 725.51,263.5 725.76,264.2 726.02,264.5 726.27,265.0 726.52,264.7 726.78,264.7 727.03,264.7 727.28,264.8 727.54,265.5 727.79,265.5 728.05,265.0 728.30,266.0 728.55,265.8 728.79,266.3 729.04,265.8 729.28,266.2 729.53,266.3 729.78,266.0 730.02,265.9 730.27,266.1 730.52,265.6 730.76,265.9 731.01,265.5 731.25,265.9 731.50,266.0 731.75,266.1 732.00,265.8 732.25,265.1 732.50,265.5 732.75,265.1 733.00,264.2 733.25,263.9 733.50,264.7 733.74,266.5 733.98,268.0 734.22,268.8 734.46,270.7 734.70,271.9 734.97,274.6 735.23,275.9 735.50,279.1 735.75,286.0 736.00,293.7 736.30,300.4 736.60,306.4 736.85,307.7 737.10,307.8 737.35,308.3 737.60,309.8 737.83,310.7 738.07,308.8 738.30,308.8 738.53,309.6 738.77,309.1 739.00,308.2 739.25,307.8 739.50,306.4 739.75,306.0 740.00,304.2 740.25,304.3 740.50,303.4 740.75,303.1 741.00,301.9 741.25,301.9 741.50,300.5 741.75,297.5 742.00,298.0 742.25,297.7 742.50,296.7 742.75,295.2 743.00,294.8 743.25,293.2 743.50,292.7 743.75,293.4 744.00,295.2 744.25,295.1 744.50,293.6 744.75,292.6 745.00,291.8 745.27,290.7 745.53,291.6 745.80,290.5 746.07,289.8 746.33,290.7 746.60,290.8 746.85,289.8 747.10,288.7 747.35,285.7 747.60,284.6 747.85,284.5 748.10,280.5 748.35,278.2 748.60,277.6 748.85,278.0 749.10,282.3 749.35,281.2 749.60,281.5 749.84,281.8 750.08,283.5 750.32,282.6 750.56,284.4 750.80,284.3 751.04,285.5 751.28,286.1 751.52,288.2 751.76,287.5 752.00,287.9 752.25,286.8 752.50,285.2 752.75,284.6 753.00,284.7 753.25,284.4 753.50,282.5 753.75,283.2 754.00,281.5 754.25,278.9 754.50,278.0 754.75,277.9 755.00,277.0 755.25,277.2 755.50,277.2 755.75,276.4 756.00,277.1 756.25,275.8 756.50,275.1 756.75,273.8 757.00,273.7 757.25,272.2 757.50,271.1 757.75,270.9 758.00,271.4 758.25,269.1 758.50,269.7 758.75,271.1 759.00,271.5 759.25,273.2 759.50,272.0 759.75,272.7 760.00,271.2 760.25,272.0 760.50,273.1 760.75,273.0 761.00,273.8 761.25,273.3 761.50,274.4 761.75,273.9 762.00,273.6 762.25,272.6 762.50,272.9 762.75,271.7 763.00,270.6 763.25,270.3 763.50,269.8 763.75,268.3 764.00,267.3 764.25,267.5 764.49,267.5 764.74,267.0 764.99,266.7 765.23,267.0 765.48,267.2 765.73,267.6 765.97,267.5 766.22,267.4 766.47,265.6 766.71,266.9 766.96,267.0 767.21,265.8 767.45,265.0 767.70,263.9 767.95,263.9 768.21,263.2 768.46,263.7 768.72,263.3 768.97,262.5 769.22,261.7 769.48,260.3 769.73,260.1 769.98,259.1 770.24,257.5 770.49,256.9 770.75,256.7 771.00,256.6 771.25,254.9 771.51,255.8 771.76,255.7 772.01,256.7 772.26,256.9 772.52,256.6 772.77,255.9 773.02,256.2 773.27,256.9 773.53,255.5 773.78,255.3 774.03,255.2 774.28,255.2 774.54,255.1 774.79,255.6 775.04,256.0 775.29,254.0 775.55,255.7 775.80,254.9 776.05,255.0 776.29,253.9 776.54,253.4 776.78,253.9 777.03,253.4 777.28,253.8 777.52,253.2 777.77,252.3 778.02,251.0 778.26,250.1 778.51,249.9 778.75,249.7 779.00,250.6 779.25,251.6 779.49,252.5 779.74,252.4 779.98,252.7 780.23,251.7 780.48,250.5 780.72,251.4 780.97,250.3 781.22,251.3 781.46,252.1 781.71,253.8 781.95,254.5 782.20,255.1 782.45,255.0 782.71,254.0 782.96,252.9 783.21,251.4 783.46,251.5 783.72,251.8 783.97,251.3 784.22,248.7 784.47,249.6 784.73,248.6 784.98,249.0 785.23,247.6 785.48,248.3 785.74,247.3 785.99,248.9 786.24,248.8 786.49,246.9 786.75,243.3 787.00,243.3 787.25,242.9 787.50,244.0 787.75,244.4 788.00,244.5 788.25,245.8 788.50,245.0 788.75,244.2 789.00,242.5 789.25,240.6 789.50,240.2 789.75,240.5 790.00,239.7 790.25,238.9 790.50,239.6 790.75,239.4 791.00,238.8 791.25,238.4 791.50,237.4 791.75,238.4 792.00,239.5 792.25,240.2 792.50,240.9 792.75,237.9 793.00,238.7 793.25,238.5 793.50,238.6 793.75,237.5 794.01,236.9 794.26,238.1 794.51,237.4 794.76,238.2 795.02,238.2 795.27,237.4 795.52,238.2 795.77,238.3 796.03,237.3 796.28,237.1 796.53,237.5 796.78,237.6 797.04,237.8 797.29,238.2 797.54,237.0 797.79,238.2 798.05,237.1 798.30,236.9 798.55,236.3 798.81,236.3 799.06,236.8 799.31,235.1 799.56,235.7 799.82,235.4 800.07,235.3 800.32,231.6 800.57,230.4 800.83,230.6 801.08,230.5 801.33,232.2 801.58,230.8 801.84,232.5 802.09,233.2 802.34,233.4 802.59,232.0 802.85,230.7 803.10,229.4 803.35,229.8 803.61,229.7 803.86,228.6 804.12,226.0 804.37,226.9 804.62,227.9 804.88,229.0 805.13,228.9 805.38,227.4 805.64,225.4 805.89,225.1 806.15,226.5 806.40,228.1 806.65,226.2 806.90,223.7 807.15,221.3 807.40,221.7 807.65,223.5 807.90,222.8 808.15,222.9 808.40,223.0 808.65,224.7 808.90,224.5 809.15,224.8 809.40,223.7 809.65,223.2 809.90,224.3 810.15,224.2 810.40,226.1 810.65,227.8 810.89,227.0 811.14,229.0 811.38,227.3 811.63,227.4 811.88,227.9 812.12,226.8 812.37,228.9 812.62,230.5 812.86,230.9 813.11,228.9 813.35,229.7 813.60,232.2 813.85,232.6 814.10,231.4 814.35,232.9 814.60,232.4 814.85,232.7 815.10,233.7 815.35,233.2 815.60,233.8 815.85,232.9 816.10,233.1 816.35,233.4 816.60,233.3 816.85,232.8 817.10,232.0 817.35,231.2 817.60,230.2 817.85,229.2 818.11,228.2 818.36,230.1 818.62,228.7 818.87,231.1 819.12,231.5 819.38,230.8 819.63,231.9 819.88,231.1 820.14,231.5 820.39,229.1 820.65,227.1 820.90,227.2 821.15,229.2 821.39,230.5 821.64,230.8 821.88,230.3 822.13,229.9 822.38,229.8 822.62,229.5 822.87,230.4 823.12,235.2 823.36,237.3 823.61,235.9 823.85,236.1 824.10,234.3 824.35,234.4 824.61,235.5 824.86,234.8 825.11,234.8 825.36,233.7 825.62,234.4 825.87,234.8 826.12,233.6 826.37,234.8 826.63,236.1 826.88,236.2 827.13,234.0 827.38,234.5 827.64,235.3 827.89,236.2 828.14,236.9 828.39,237.3 828.65,236.4 828.90,234.3 829.15,234.5 829.39,235.0 829.64,233.2 829.88,233.7 830.13,234.7 830.38,234.8 830.62,235.4 830.87,236.7 831.12,239.8 831.36,240.8 831.61,243.3 831.85,241.2 832.10,241.1 832.35,239.8 832.60,238.8 832.85,240.0 833.10,241.3 833.35,242.7 833.60,243.3 833.85,242.3 834.10,240.9 834.35,242.9 834.60,240.1 834.85,241.0 835.10,242.2 835.35,243.9 835.60,245.4 835.85,246.1 836.10,247.8 836.35,243.7 836.60,243.1 836.85,243.3 837.10,240.1 837.35,239.4 837.60,241.4 837.85,240.4 838.10,242.3 838.35,242.7 838.60,241.6 838.85,242.0 839.11,242.5 839.36,241.1 839.61,241.5 839.86,241.2 840.12,244.5 840.37,244.5 840.62,244.8 840.87,245.1 841.13,244.6 841.38,245.2 841.63,245.8 841.88,243.5 842.14,244.0 842.39,243.9 842.64,244.3 842.89,243.6 843.15,243.2 843.40,243.3 843.65,244.2 843.90,245.0 844.15,245.1 844.40,246.5 844.65,246.7 844.90,246.2 845.15,247.0 845.40,247.0 845.65,250.3 845.90,247.0 846.15,246.9 846.40,246.4 846.65,246.4 846.90,243.3 847.15,243.9 847.40,243.9 847.66,244.9 847.92,243.2 848.18,242.7 848.44,242.9 848.70,247.0 848.96,247.8 849.22,250.5 849.48,250.4 849.74,252.1 850.00,252.1 850.24,252.5 850.49,254.2 850.73,255.9 850.98,258.0 851.22,256.5 851.47,256.6 851.71,256.4 851.96,256.2 852.20,257.8 852.45,255.2 852.70,254.4 852.94,252.8 853.19,253.4 853.44,253.6 853.69,253.9 853.93,253.2 854.18,252.8 854.43,252.7 854.68,251.9 854.93,251.8 855.17,248.3 855.42,249.3 855.67,246.7 855.92,246.0 856.17,246.5 856.41,246.5 856.66,243.9 856.91,243.4 857.16,240.1 857.40,239.8 857.65,238.9 857.90,240.6 858.15,242.6 858.39,241.9 858.64,243.3 858.88,245.1 859.13,242.7 859.38,242.3 859.62,242.9 859.87,244.1 860.12,244.4 860.36,244.5 860.61,243.6 860.85,244.7 861.10,246.4 861.35,246.9 861.61,246.9 861.86,248.2 862.11,248.9 862.36,248.8 862.62,250.7 862.87,251.5 863.12,253.6 863.37,251.7 863.63,251.5 863.88,248.7 864.13,249.9 864.38,250.1 864.64,252.5 864.89,254.8 865.14,256.2 865.39,258.4 865.65,258.0 865.90,257.8 866.14,255.6 866.39,255.5 866.63,254.2 866.88,255.1 867.12,255.2 867.37,255.4 867.62,254.2 867.86,253.2 868.11,252.2 868.35,248.4 868.59,246.5 868.84,245.5 869.08,243.9 869.33,244.1 869.57,242.5 869.82,243.9 870.06,243.8 870.31,241.3 870.55,238.2 870.80,241.2 871.05,242.2 871.29,243.9 871.54,242.7 871.78,241.9 872.03,241.1 872.28,239.7 872.52,240.1 872.77,238.6 873.02,237.9 873.26,238.6 873.51,239.5 873.75,238.7 874.00,239.5 874.25,240.9 874.49,242.5 874.74,240.8 874.98,244.9 875.23,245.8 875.48,244.9 875.72,246.5 875.97,246.1 876.22,245.9 876.46,248.4 876.71,246.8 876.95,245.5 877.20,245.4 877.45,243.9 877.71,244.8 877.96,243.7 878.21,240.8 878.46,239.4 878.72,237.9 878.97,236.6 879.22,237.2 879.47,236.2 879.73,236.7 879.98,237.4 880.23,236.9 880.48,234.9 880.74,234.1 880.99,235.1 881.24,233.5 881.49,232.1 881.75,233.2 882.00,234.8 882.25,235.0 882.50,234.7 882.75,234.5 883.00,235.1 883.25,236.1 883.50,236.6 883.75,236.7 884.00,236.4 884.25,236.1 884.50,235.6 884.75,234.7 885.00,237.1 885.25,235.9 885.50,235.0 885.75,236.6 886.00,237.0 886.25,237.1 886.50,236.2 886.75,236.4 887.00,237.1 887.25,240.3 887.50,240.0 887.75,239.5 888.00,239.6 888.25,238.9 888.50,238.3 888.75,237.6 888.99,237.7 889.24,238.5 889.48,237.5 889.73,239.7 889.98,238.0 890.22,239.0 890.47,239.0 890.72,237.7 890.96,238.8 891.21,240.4 891.45,238.5 891.70,239.4 891.95,239.3 892.19,239.9 892.44,238.4 892.68,239.8 892.93,241.2 893.18,241.3 893.42,240.4 893.67,240.4 893.92,240.5 894.16,240.9 894.41,239.8 894.65,239.1 894.90,240.3 895.14,240.6 895.39,241.8 895.63,240.3 895.88,240.0 896.12,241.7 896.37,240.4 896.62,238.9 896.86,237.8 897.11,236.8 897.35,236.8 897.59,237.0 897.84,237.3 898.08,238.2 898.33,237.6 898.57,238.5 898.82,238.8 899.06,236.3 899.31,234.8 899.55,235.2 899.80,235.7 900.05,237.3 900.29,234.9 900.54,232.9 900.78,233.4 901.03,233.3 901.28,233.4 901.52,232.7 901.77,232.6 902.02,229.8 902.26,233.5 902.51,233.0 902.75,232.7 903.00,233.9 903.25,233.4 903.49,233.5 903.74,234.2 903.98,234.6 904.23,234.6 904.48,235.0 904.72,235.5 904.97,234.8 905.22,234.6 905.46,233.1 905.71,233.5 905.95,231.2 906.20,231.2 906.45,232.3 906.69,230.3 906.94,230.7 907.18,230.9 907.43,230.7 907.68,231.0 907.92,231.7 908.17,232.9 908.42,235.1 908.66,232.1 908.91,233.2 909.15,234.4 909.40,232.7 909.65,234.0 909.89,235.7 910.14,235.4 910.38,235.6 910.63,235.0 910.88,234.1 911.12,234.2 911.37,233.9 911.62,235.8 911.86,235.0 912.11,236.3 912.35,237.3 912.60,236.8 912.86,237.9 913.11,239.1 913.37,238.7 913.62,238.7 913.88,237.2 914.14,238.5 914.39,237.1 914.65,236.6 914.91,236.5 915.16,236.1 915.42,236.0 915.68,236.5 915.93,238.3 916.19,239.1 916.44,239.6 916.70,238.5 916.94,237.2 917.18,237.1 917.42,237.0 917.66,236.3 917.90,237.5 918.14,236.3 918.38,235.4 918.62,233.7 918.86,234.8 919.10,236.1 919.35,235.6 919.59,234.5 919.84,235.8 920.08,232.3 920.33,231.5 920.58,231.3 920.82,230.6 921.07,229.9 921.32,228.3 921.56,228.9 921.81,226.2 922.05,224.5 922.30,225.0 922.55,226.0 922.79,226.3 923.04,227.4 923.28,227.7 923.53,228.8 923.78,228.9 924.02,227.5 924.27,226.3 924.52,229.2 924.76,227.7 925.01,227.0 925.25,228.4 925.50,230.4 925.77,228.5 926.03,227.0 926.30,223.6 926.57,222.2 926.83,218.6 927.10,216.3 927.36,216.7 927.61,217.0 927.87,218.1 928.12,217.7 928.38,218.1 928.64,219.3 928.89,219.3 929.15,218.9 929.41,221.7 929.66,221.6 929.92,224.1 930.18,224.1 930.43,224.7 930.69,225.7 930.94,224.9 931.20,224.2 931.45,222.9 931.71,220.5 931.96,217.5 932.21,215.7 932.47,212.7 932.72,210.2 932.97,208.7 933.23,205.3 933.48,205.2 933.73,200.0 933.99,196.4 934.24,195.7 934.49,194.6 934.75,194.7 935.00,190.5 935.25,191.4 935.50,190.5 935.75,189.0 936.00,188.8 936.25,188.0 936.50,186.2 936.75,185.2 937.00,184.9 937.25,186.4 937.50,186.7 937.75,186.0 938.00,186.3 938.25,185.7 938.50,185.9 938.75,184.2 939.00,184.2 939.25,184.6 939.50,184.1 939.75,183.9 940.00,183.1 940.25,184.8 940.50,184.6 940.75,183.6 941.00,184.7 941.25,182.8 941.50,183.8 941.75,182.5 942.00,181.4 942.25,181.7 942.50,181.7 942.75,179.7 943.00,178.7 943.25,177.5 943.50,175.6 943.75,174.2 944.00,174.5 944.25,171.2 944.50,171.7 944.75,170.2 945.00,168.6 945.26,169.2 945.52,168.9 945.79,170.9 946.05,170.9 946.31,170.9 946.58,167.1 946.84,166.0 947.10,168.5 947.35,168.8 947.60,169.2 947.85,168.3 948.10,171.2 948.35,172.4 948.60,174.1 948.85,175.0 949.10,176.2 949.35,176.8 949.60,177.1 949.85,178.5 950.10,176.2 950.35,175.7 950.60,174.7 950.85,175.3 951.10,177.1 951.35,177.7 951.60,177.2 951.85,176.7 952.10,174.2 952.35,175.7 952.60,176.1 952.85,175.1 953.10,173.2 953.36,174.1 953.61,174.0 953.87,175.6 954.12,178.1 954.38,179.1 954.64,180.4 954.89,181.8 955.15,185.5 955.41,187.1 955.66,185.5 955.92,188.0 956.18,187.0 956.43,186.5 956.69,188.5 956.94,191.8 957.20,192.8 957.45,191.6 957.70,188.3 957.95,186.7 958.20,186.3 958.45,187.8 958.70,186.2 958.95,181.1 959.20,178.8 959.45,178.9 959.70,177.8 959.95,180.2 960.20,180.4 960.45,181.1 960.70,180.3 960.95,180.0 961.20,180.1 961.45,180.0 961.70,180.0 961.95,180.1 962.20,180.4 962.47,166.9 962.73,156.7 963.00,145.4 963.25,144.1 963.50,143.4 963.75,142.5 964.00,140.8 964.25,139.2 964.50,138.5 964.75,137.8 965.00,138.9 965.25,137.1 965.50,135.7 965.75,135.1 966.00,133.2 966.25,131.9 966.50,130.7 966.75,129.8 967.00,130.6 967.25,131.1 967.50,132.0 967.75,133.1 968.00,133.1 968.25,132.5 968.50,134.1 968.75,135.2 969.00,136.3 969.25,131.9 969.50,128.1 969.75,126.6 970.00,122.8 970.25,122.7 970.50,123.2 970.75,121.8 971.00,119.9 971.25,117.5 971.50,118.2 971.75,116.4 972.00,114.3 972.25,114.3 972.50,115.5 972.75,117.1 973.00,115.8 973.25,116.0 973.50,116.0 973.75,115.4 974.00,115.4 974.24,117.9 974.49,120.8 974.73,121.9 974.97,126.7 975.21,129.4 975.46,130.8 975.70,134.7 975.94,133.0 976.18,130.4 976.42,129.5 976.66,126.9 976.90,124.9 977.14,121.0 977.38,119.1 977.62,118.3 977.86,115.8 978.10,113.1 978.37,111.6 978.63,110.0 978.90,107.9 979.17,105.1 979.43,103.2 979.70,100.9 979.95,95.3 980.20,87.4 980.45,79.6 980.70,74.0 980.93,77.9 981.17,81.2 981.40,84.1 981.63,86.1 981.87,90.5 982.10,95.0 982.37,96.1 982.63,97.4 982.90,97.7 983.17,97.3 983.43,96.0 983.70,95.6 983.95,95.0 984.20,97.2 984.45,98.3 984.70,101.2 984.95,103.1 985.20,104.2 985.43,107.7 985.67,113.7 985.90,117.0 986.13,121.8 986.37,125.1 986.60,131.1 986.87,129.3 987.13,125.9 987.40,124.3 987.67,122.0 987.93,117.6 988.20,118.3 988.45,118.8 988.70,120.2 988.95,121.6 989.20,122.1 989.45,122.9 989.70,124.7 989.95,125.9 990.20,127.6 990.45,135.4 990.70,141.6 990.95,148.7 991.20,156.1 991.45,153.5 991.70,151.3 991.95,147.8 992.20,144.3 992.45,140.3 992.70,136.2 992.95,133.8 993.20,129.9 993.43,127.0 993.67,127.0 993.90,126.6 994.13,123.4 994.37,121.2 994.60,120.2 994.90,134.5 995.20,146.5"/>
<polyline fill="none" stroke="#9db2c9" stroke-width="3.0" stroke-linejoin="round" stroke-linecap="butt" points="90.00,327.6 90.25,327.6 90.50,327.5 90.75,327.5 91.00,327.2 91.25,327.4 91.50,327.8 91.75,327.3 92.00,327.0 92.25,326.7 92.50,327.0 92.75,327.1 93.00,327.3 93.25,327.4 93.50,327.3 93.75,327.3 94.00,327.2 94.25,327.4 94.50,327.0 94.75,327.0 95.00,326.6 95.25,326.3 95.49,326.8 95.74,327.0 95.98,327.3 96.23,327.3 96.48,327.2 96.72,327.4 96.97,327.5 97.22,327.2 97.46,327.2 97.71,327.7 97.95,327.7 98.20,327.8 98.45,327.8 98.69,327.7 98.94,328.0 99.18,328.1 99.43,328.0 99.68,328.0 99.92,327.9 100.17,328.1 100.42,328.3 100.66,328.2 100.91,328.5 101.15,328.4 101.40,328.4 101.65,328.5 101.91,328.6 102.16,328.3 102.41,328.3 102.66,328.1 102.92,328.4 103.17,328.2 103.42,328.1 103.67,327.7 103.93,327.5 104.18,327.5 104.43,327.4 104.68,327.5 104.94,327.2 105.19,327.4 105.44,327.1 105.69,327.6 105.95,327.4 106.20,327.5 106.45,327.1 106.71,327.2 106.96,326.8 107.21,326.8 107.46,326.8 107.72,326.6 107.97,326.7 108.22,326.9 108.47,326.9 108.73,326.8 108.98,326.4 109.23,326.2 109.48,326.2 109.74,325.8 109.99,326.1 110.24,326.0 110.49,325.9 110.75,326.1 111.00,326.0 111.25,325.9 111.50,326.2 111.75,326.6 112.00,326.7 112.25,326.5 112.50,326.8 112.75,326.5 113.00,326.7 113.25,326.6 113.50,326.9 113.75,326.7 114.00,327.2 114.25,327.3 114.50,326.9 114.75,326.6 115.00,326.8 115.25,327.2 115.50,327.4 115.75,327.6 116.00,327.6 116.25,327.9 116.50,327.9 116.75,328.0 117.00,328.2 117.25,327.6 117.49,327.6 117.74,327.5 117.99,327.2 118.24,327.0 118.48,327.2 118.73,327.2 118.98,327.1 119.23,327.2 119.47,327.0 119.72,326.7 119.97,326.2 120.22,326.3 120.46,326.4 120.71,326.3 120.96,326.5 121.21,326.3 121.45,326.2 121.70,326.5 121.95,326.8 122.21,326.8 122.46,327.2 122.71,327.2 122.96,327.6 123.22,327.8 123.47,327.6 123.72,327.8 123.97,328.2 124.23,327.7 124.48,327.8 124.73,327.9 124.98,327.8 125.24,327.9 125.49,328.0 125.74,328.4 125.99,328.7 126.25,329.4 126.50,329.3 126.75,329.1 127.00,328.9 127.26,329.1 127.51,329.6 127.76,329.2 128.01,329.2 128.27,329.3 128.52,329.2 128.77,329.3 129.02,329.2 129.27,329.5 129.53,329.4 129.78,329.5 130.03,329.7 130.28,329.6 130.53,329.3 130.79,329.3 131.04,329.6 131.29,329.6 131.54,329.7 131.80,329.5 132.05,329.7 132.30,329.7 132.55,329.8 132.80,329.5 133.05,329.5 133.29,329.4 133.54,329.5 133.79,329.2 134.04,329.1 134.29,329.2 134.54,329.5 134.79,329.5 135.04,329.5 135.28,329.3 135.53,329.4 135.78,329.4 136.03,329.6 136.28,329.4 136.53,329.1 136.78,329.0 137.03,328.8 137.27,328.5 137.52,328.8 137.77,328.8 138.02,328.5 138.27,328.8 138.52,328.7 138.77,328.4 139.02,328.4 139.26,328.3 139.51,328.1 139.76,327.7 140.01,327.7 140.26,327.7 140.51,327.1 140.76,327.3 141.01,327.5 141.25,327.3 141.50,327.3 141.75,327.3 142.00,327.0 142.25,327.1 142.50,327.2 142.75,327.7 143.00,327.4 143.25,327.5 143.50,327.5 143.75,327.4 144.00,327.4 144.25,327.5 144.50,327.9 144.75,328.0 145.00,328.1 145.25,328.4 145.50,328.7 145.75,328.7 146.00,328.9 146.25,328.9 146.50,329.1 146.75,329.4 147.00,329.3 147.25,329.3 147.50,329.8 147.75,329.8 148.00,330.5 148.25,330.3 148.50,330.5 148.75,330.4 149.00,330.5 149.25,330.6 149.50,330.4 149.75,330.5 150.00,330.4 150.25,330.3 150.51,330.6 150.76,330.5 151.02,330.6 151.27,330.7 151.53,330.6 151.78,330.6 152.04,330.4 152.29,330.2 152.55,330.0 152.80,330.2 153.05,330.2 153.31,330.0 153.56,329.9 153.82,330.2 154.07,330.3 154.33,330.2 154.58,330.0 154.84,329.6 155.09,329.7 155.35,329.8 155.60,329.7 155.85,329.6 156.11,329.8 156.36,329.8 156.61,329.8 156.86,329.6 157.12,329.8 157.37,329.8 157.62,329.9 157.88,330.0 158.13,330.3 158.38,330.8 158.64,330.9 158.89,330.7 159.14,330.8 159.39,330.8 159.65,331.1 159.90,331.1 160.16,331.3 160.43,331.9 160.69,332.4 160.95,333.2 161.21,333.5 161.47,333.6 161.74,334.3 162.00,334.5 162.26,334.8 162.53,335.1 162.79,335.3 163.05,335.2 163.31,335.1 163.57,335.7 163.84,336.4 164.10,337.2 164.35,336.7 164.60,336.6 164.85,336.5 165.10,336.3 165.35,336.0 165.60,336.8 165.85,336.9 166.10,336.4 166.35,336.5 166.60,336.8 166.85,337.1 167.10,336.9 167.35,337.0 167.60,337.7 167.85,337.4 168.10,337.0 168.35,336.9 168.60,336.5 168.85,336.7 169.10,336.6 169.35,336.5 169.60,336.9 169.85,336.7 170.10,336.8 170.35,337.1 170.60,336.9 170.85,336.6 171.10,336.3 171.35,336.1 171.60,336.7 171.85,336.9 172.10,336.5 172.35,336.3 172.60,336.9 172.85,337.3 173.10,337.1 173.35,337.2 173.60,336.6 173.85,336.6 174.10,336.7 174.35,336.2 174.60,336.1 174.86,336.4 175.11,336.7 175.37,337.0 175.63,337.0 175.89,337.2 176.14,337.2 176.40,336.8 176.66,336.8 176.91,336.9 177.17,336.9 177.43,337.1 177.69,337.0 177.94,337.5 178.20,337.4 178.45,337.7 178.69,337.9 178.94,338.1 179.19,338.4 179.44,338.9 179.68,338.2 179.93,338.3 180.18,338.2 180.42,338.1 180.67,338.0 180.92,338.3 181.16,338.5 181.41,338.5 181.66,338.7 181.91,338.7 182.15,338.4 182.40,338.8 182.65,338.7 182.89,339.0 183.14,338.8 183.39,338.6 183.64,338.5 183.88,338.5 184.13,338.5 184.38,338.5 184.62,338.6 184.87,338.5 185.12,337.8 185.36,337.4 185.61,337.5 185.86,337.4 186.11,337.9 186.35,337.7 186.60,337.3 186.85,337.5 187.10,336.9 187.34,337.1 187.59,337.0 187.84,336.7 188.09,336.6 188.33,336.4 188.58,336.6 188.83,336.7 189.08,337.2 189.33,337.1 189.57,337.1 189.82,336.9 190.07,336.9 190.32,337.0 190.57,336.3 190.81,336.5 191.06,336.3 191.31,336.3 191.56,336.3 191.80,336.4 192.05,336.5 192.30,336.4 192.55,336.6 192.80,336.4 193.05,336.2 193.30,336.1 193.55,335.5 193.80,335.8 194.05,335.9 194.30,336.2 194.55,335.7 194.80,335.4 195.05,335.6 195.30,335.7 195.55,336.0 195.80,335.7 196.05,335.9 196.30,335.6 196.55,335.8 196.80,335.6 197.05,335.7 197.30,335.9 197.55,336.0 197.80,335.5 198.05,335.8 198.30,335.7 198.55,335.3 198.80,335.0 199.05,335.2 199.30,335.3 199.55,334.8 199.80,334.9 200.04,335.0 200.29,334.9 200.54,334.7 200.79,334.5 201.03,334.5 201.28,334.6 201.53,334.8 201.78,334.9 202.03,335.0 202.27,334.9 202.52,335.0 202.77,334.7 203.02,334.7 203.27,334.6 203.51,334.8 203.76,334.6 204.01,334.2 204.26,334.3 204.50,334.0 204.75,333.9 205.00,333.7 205.25,333.5 205.50,333.7 205.75,333.7 206.00,333.8 206.25,333.5 206.50,333.8 206.75,333.6 207.00,333.7 207.25,333.5 207.50,333.2 207.75,333.2 208.00,333.2 208.25,333.4 208.50,333.4 208.75,333.5 209.00,333.5 209.25,333.9 209.50,333.7 209.75,333.6 210.00,333.4 210.25,333.4 210.50,333.2 210.75,333.4 211.00,333.1 211.25,332.8 211.50,332.8 211.75,332.7 212.00,332.8 212.25,333.0 212.50,332.8 212.75,333.0 213.00,332.8 213.25,332.8 213.50,332.8 213.75,333.1 214.00,333.0 214.25,332.7 214.50,332.6 214.75,332.8 215.00,332.8 215.25,332.7 215.50,332.5 215.75,332.3 216.00,332.0 216.25,332.2 216.51,332.3 216.76,332.2 217.01,332.0 217.26,332.1 217.51,332.2 217.76,332.1 218.01,332.3 218.26,332.4 218.51,332.4 218.76,332.6 219.01,332.5 219.26,332.7 219.52,332.5 219.77,332.6 220.02,332.6 220.27,332.5 220.52,332.5 220.77,332.3 221.02,332.1 221.27,332.2 221.52,332.1 221.77,332.3 222.02,332.4 222.28,332.5 222.53,332.5 222.78,332.4 223.03,332.5 223.28,332.4 223.53,332.4 223.78,332.7 224.03,332.4 224.28,332.4 224.53,332.6 224.78,332.6 225.04,332.7 225.29,332.8 225.54,332.4 225.79,332.4 226.04,332.2 226.29,332.4 226.54,332.7 226.79,332.6 227.04,332.7 227.29,332.6 227.54,332.4 227.79,332.3 228.05,332.2 228.30,332.2 228.55,332.3 228.80,332.5 229.05,332.7 229.30,332.7 229.55,332.5 229.80,332.6 230.05,332.3 230.30,332.6 230.55,332.4 230.80,332.6 231.05,332.7 231.30,332.4 231.55,332.3 231.80,332.3 232.05,332.1 232.30,332.1 232.55,331.9 232.80,331.7 233.05,331.5 233.30,331.2 233.55,331.1 233.80,331.2 234.05,331.2 234.30,331.2 234.55,331.1 234.80,331.1 235.05,330.7 235.30,330.6 235.55,330.5 235.80,330.7 236.05,330.8 236.30,330.4 236.55,330.8 236.81,330.6 237.06,330.6 237.31,330.8 237.57,330.9 237.82,331.0 238.07,331.2 238.33,331.3 238.58,331.5 238.83,331.9 239.08,331.7 239.34,331.9 239.59,332.0 239.84,331.9 240.10,331.9 240.35,331.7 240.60,331.6 240.86,331.8 241.11,331.8 241.36,332.1 241.62,331.9 241.87,331.9 242.12,331.9 242.38,331.9 242.63,332.2 242.88,332.1 243.13,332.3 243.39,332.3 243.64,332.3 243.89,332.6 244.15,332.6 244.40,332.6 244.65,332.6 244.90,332.6 245.15,332.8 245.40,332.8 245.65,332.8 245.90,332.3 246.15,332.6 246.40,332.8 246.65,332.6 246.90,332.9 247.15,332.9 247.40,332.9 247.65,333.1 247.90,333.0 248.15,332.7 248.40,332.7 248.65,332.5 248.90,332.4 249.15,332.3 249.40,332.3 249.65,332.5 249.90,332.7 250.15,332.6 250.40,332.7 250.65,332.4 250.91,332.6 251.16,332.3 251.42,332.4 251.67,332.4 251.93,332.3 252.18,332.5 252.43,332.4 252.69,332.7 252.94,332.5 253.20,332.3 253.45,331.9 253.70,332.0 253.96,332.2 254.21,332.3 254.47,332.2 254.72,332.1 254.97,332.5 255.23,332.5 255.48,332.1 255.74,332.1 255.99,331.6 256.25,331.9 256.50,331.7 256.75,331.4 257.00,331.7 257.25,331.7 257.50,331.8 257.75,331.6 258.00,331.8 258.25,331.9 258.50,331.5 258.75,331.4 259.00,331.2 259.25,330.8 259.50,330.8 259.75,330.9 260.00,330.6 260.25,330.3 260.50,330.5 260.75,330.4 261.00,330.4 261.25,330.1 261.50,330.0 261.75,330.0 262.00,330.0 262.25,329.9 262.50,330.1 262.75,329.9 263.00,329.6 263.25,329.4 263.50,329.3 263.75,329.6 264.00,329.3 264.25,329.2 264.50,329.1 264.75,328.9 265.00,328.7 265.25,328.7 265.50,328.6 265.75,328.6 266.00,328.4 266.25,328.4 266.50,328.5 266.75,328.5 267.00,328.6 267.25,329.0 267.50,329.1 267.75,329.1 268.00,329.3 268.25,329.2 268.50,328.9 268.75,328.5 269.00,328.6 269.25,328.3 269.50,328.6 269.75,328.4 270.00,327.9 270.25,328.1 270.50,328.4 270.75,328.4 271.00,328.4 271.25,328.3 271.50,328.7 271.75,328.6 272.00,328.4 272.25,328.2 272.50,328.0 272.75,328.3 273.00,328.4 273.25,328.2 273.50,328.3 273.75,328.4 274.00,328.3 274.25,328.1 274.50,328.2 274.75,327.9 275.00,328.1 275.25,328.2 275.50,328.1 275.75,328.1 276.00,328.0 276.25,327.6 276.50,327.8 276.75,328.2 277.00,328.4 277.25,328.7 277.50,328.7 277.75,328.3 278.00,328.0 278.25,328.2 278.50,328.2 278.75,328.1 279.00,328.2 279.25,327.9 279.50,328.0 279.75,327.9 280.00,327.9 280.25,328.0 280.50,328.0 280.75,328.2 281.00,328.3 281.25,328.1 281.50,328.4 281.75,328.0 282.00,327.9 282.25,327.9 282.50,327.4 282.75,327.7 283.00,327.9 283.25,327.9 283.50,327.9 283.75,327.9 284.00,327.7 284.25,328.0 284.50,327.8 284.75,327.8 285.00,328.1 285.25,327.9 285.50,328.0 285.75,327.6 286.00,327.3 286.25,327.6 286.50,327.4 286.75,327.3 287.00,327.3 287.25,327.4 287.50,326.9 287.75,326.8 288.00,326.9 288.25,326.9 288.50,327.0 288.75,327.0 289.00,327.0 289.25,327.0 289.50,326.8 289.75,326.7 290.00,326.7 290.25,326.8 290.50,326.9 290.75,326.7 291.00,326.7 291.25,326.8 291.50,326.8 291.75,326.8 292.00,327.1 292.25,327.0 292.50,327.0 292.75,326.8 293.00,327.1 293.25,327.3 293.50,327.2 293.75,326.9 294.00,327.0 294.25,327.2 294.50,327.3 294.75,327.5 295.00,327.3 295.25,327.4 295.50,327.5 295.75,327.6 296.00,328.0 296.25,328.0 296.50,327.9 296.75,328.2 297.00,328.0 297.25,328.2 297.50,328.2 297.75,328.0 298.00,327.8 298.25,328.3 298.50,328.5 298.75,328.7 299.00,328.9 299.25,329.0 299.50,328.8 299.75,329.1 300.00,329.4 300.25,329.5 300.50,329.9 300.75,330.3 301.00,330.0 301.25,330.0 301.50,330.1 301.75,330.1 302.00,330.2 302.25,330.4 302.50,330.5 302.75,330.4 303.00,330.4 303.25,330.4 303.50,330.4 303.75,330.4 304.00,330.6 304.25,330.6 304.50,330.4 304.75,329.9 305.00,330.0 305.25,330.4 305.50,330.5 305.75,330.2 306.00,330.2 306.25,330.3 306.50,330.1 306.75,330.3 307.00,330.2 307.25,330.5 307.50,330.6 307.75,331.1 308.00,330.7 308.25,330.7 308.50,330.4 308.75,330.7 309.00,330.7 309.25,330.8 309.50,330.8 309.75,330.6 310.00,330.4 310.25,330.3 310.50,330.2 310.75,330.4 311.00,330.4 311.25,330.5 311.50,330.4 311.75,330.5 312.00,330.3 312.25,330.5 312.50,330.4 312.75,330.3 313.00,330.3 313.25,330.7 313.50,330.6 313.75,330.6 314.00,330.3 314.25,330.1 314.50,330.1 314.75,329.7 315.00,330.0 315.25,330.0 315.50,330.0 315.75,329.8 316.00,329.8 316.25,329.7 316.50,329.9 316.75,330.0 317.00,330.1 317.25,329.9 317.50,329.7 317.75,329.9 318.00,329.7 318.25,329.5 318.50,329.7 318.75,329.8 319.00,329.4 319.25,329.3 319.50,329.2 319.75,329.1 320.00,329.3 320.25,329.2 320.50,329.4 320.75,329.1 321.00,329.1 321.25,328.9 321.50,328.7 321.75,328.5 322.00,328.4 322.25,328.4 322.50,328.2 322.75,328.5 323.00,328.4 323.25,328.1 323.50,328.1 323.75,328.2 324.00,328.1 324.25,328.2 324.50,328.0 324.75,327.9 325.00,328.2 325.25,328.1 325.50,328.2 325.75,328.1 326.00,328.2 326.25,328.1 326.50,328.0 326.75,328.1 327.00,327.9 327.25,327.8 327.50,327.9 327.75,327.7 328.00,327.3 328.25,327.3 328.50,327.5 328.75,327.4 329.00,327.4 329.25,327.2 329.50,327.2 329.75,327.1 330.00,326.9 330.25,326.5 330.50,326.5 330.75,326.6 331.00,326.6 331.25,326.4 331.50,326.7 331.75,326.9 332.00,326.5 332.25,326.6 332.50,326.6 332.75,326.0 333.00,326.3 333.25,326.5 333.50,326.6 333.75,326.6 334.00,326.4 334.25,326.2 334.50,326.3 334.75,326.4 335.00,326.2 335.25,326.2 335.50,326.3 335.75,325.7 336.00,325.8 336.25,325.7 336.50,325.3 336.75,325.5 337.00,325.3 337.25,325.6 337.50,326.1 337.75,326.7 338.00,326.2 338.25,326.1 338.50,326.3 338.75,326.0 339.00,326.2 339.25,326.4 339.50,326.3 339.75,326.2 340.00,326.1 340.25,326.3 340.50,326.5 340.75,326.6 341.00,327.1 341.25,326.7 341.50,326.6 341.75,326.8 342.00,326.6 342.25,326.8 342.50,327.0 342.75,327.1 343.00,327.1 343.25,327.3 343.50,327.4 343.75,327.6 344.00,327.7 344.25,327.6 344.50,327.5 344.75,327.5 345.00,327.6 345.25,327.8 345.50,327.6 345.75,327.6 346.00,327.2 346.25,327.2 346.50,327.0 346.75,327.0 347.00,327.1 347.25,327.3 347.50,327.5 347.75,327.3 348.00,327.6 348.25,327.1 348.50,327.1 348.75,327.2 349.00,327.4 349.25,327.0 349.50,326.8 349.75,326.8 350.00,326.7 350.25,326.4 350.50,326.1 350.75,325.9 351.00,325.9 351.25,325.7 351.50,326.1 351.75,326.4 352.00,325.8 352.25,325.6 352.50,325.9 352.75,326.2 353.00,326.3 353.25,325.8 353.50,325.7 353.75,325.8 354.00,325.6 354.25,325.4 354.50,325.5 354.75,325.6 355.00,325.6 355.25,325.5 355.50,325.2 355.75,325.0 356.00,324.9 356.25,324.6 356.50,324.9 356.75,324.7 357.00,325.1 357.25,324.7 357.50,325.1 357.75,324.8 358.00,324.7 358.25,324.9 358.50,325.1 358.75,325.0 359.00,324.9 359.25,325.3 359.50,325.2 359.75,324.9 360.00,324.8 360.25,325.2 360.50,325.1 360.75,325.1 361.00,325.4 361.25,325.1 361.50,325.1 361.75,324.7 362.00,324.7 362.25,324.7 362.50,324.3 362.75,324.4 363.00,324.4 363.25,324.6 363.50,324.9 363.75,324.8 364.01,324.8 364.26,324.8 364.52,324.6 364.77,324.4 365.03,324.6 365.29,324.6 365.54,324.7 365.80,325.3 366.05,325.1 366.31,325.1 366.56,325.0 366.81,325.4 367.07,325.3 367.33,325.7 367.58,325.6 367.84,325.8 368.09,326.0 368.35,325.9 368.60,326.1 368.85,326.2 369.10,326.0 369.35,325.6 369.60,325.2 369.85,325.1 370.10,325.2 370.35,325.4 370.60,325.5 370.85,325.3 371.10,325.5 371.35,325.1 371.60,324.8 371.85,324.6 372.10,324.4 372.35,324.5 372.60,324.5 372.85,324.4 373.10,324.8 373.35,324.4 373.60,324.2 373.85,324.3 374.10,324.5 374.35,324.6 374.60,324.9 374.85,324.9 375.09,324.9 375.34,324.4 375.59,324.3 375.83,324.4 376.08,324.6 376.33,324.5 376.57,324.2 376.82,324.0 377.07,324.2 377.31,324.5 377.56,324.6 377.81,324.1 378.05,324.1 378.30,324.1 378.55,324.5 378.79,324.3 379.04,324.1 379.29,323.8 379.53,323.4 379.78,323.0 380.03,322.8 380.27,322.6 380.52,322.7 380.77,322.8 381.01,323.0 381.26,323.3 381.51,323.1 381.75,322.9 382.00,322.7 382.25,322.4 382.50,322.2 382.75,322.0 383.00,321.8 383.25,322.1 383.50,321.8 383.75,321.4 384.00,321.6 384.25,321.7 384.50,321.8 384.75,322.1 385.00,322.0 385.25,321.8 385.50,321.7 385.75,321.7 386.00,321.6 386.25,321.6 386.50,321.9 386.75,321.7 387.00,321.6 387.25,321.4 387.50,321.5 387.75,321.6 388.00,321.9 388.25,322.0 388.50,321.9 388.75,321.9 389.00,321.5 389.25,321.6 389.50,321.6 389.75,322.1 390.00,322.1 390.25,321.8 390.50,321.4 390.75,321.5 391.00,320.8 391.25,320.5 391.50,320.7 391.75,320.8 392.00,320.8 392.25,321.0 392.50,320.9 392.75,320.8 393.00,320.7 393.25,320.3 393.50,320.3 393.75,320.1 394.00,320.3 394.25,320.2 394.50,320.2 394.75,320.2 395.00,320.0 395.25,319.8 395.50,319.8 395.75,319.6 396.00,319.6 396.25,319.4 396.50,319.5 396.75,319.8 397.00,319.9 397.25,319.9 397.50,319.7 397.75,319.5 398.00,319.2 398.25,319.8 398.50,319.5 398.75,319.2 399.00,319.4 399.25,319.5 399.50,319.5 399.75,319.1 400.00,318.9 400.25,319.5 400.50,319.5 400.75,319.3 401.00,319.9 401.25,319.5 401.50,319.2 401.75,319.4 402.00,319.5 402.25,319.9 402.50,319.3 402.75,319.4 403.00,318.9 403.25,319.1 403.50,319.0 403.75,318.9 404.00,318.8 404.25,319.1 404.50,319.6 404.75,319.4 405.00,319.3 405.25,319.1 405.50,319.3 405.75,318.9 406.00,318.9 406.25,319.5 406.50,319.1 406.75,319.4 407.00,319.2 407.25,318.8 407.50,318.3 407.75,318.4 408.00,318.7 408.25,318.7 408.50,318.0 408.75,318.1 409.00,318.6 409.25,318.8 409.50,318.8 409.75,319.2 410.00,318.7 410.25,318.3 410.50,319.0 410.75,319.1 411.00,318.8 411.25,318.7 411.50,317.9 411.75,318.3 412.00,317.7 412.25,317.2 412.50,317.4 412.75,318.1 413.00,318.0 413.25,318.1 413.50,318.0 413.75,318.1 414.00,317.5 414.25,318.2 414.50,317.8 414.75,317.9 415.00,317.2 415.25,317.7 415.50,317.9 415.75,318.3 416.00,317.9 416.25,318.0 416.50,317.8 416.75,317.6 417.00,317.9 417.25,317.5 417.50,317.8 417.75,318.1 418.00,317.9 418.25,318.2 418.50,318.1 418.75,318.2 419.00,317.7 419.25,317.6 419.50,317.6 419.75,318.2 420.00,318.3 420.25,318.6 420.50,318.3 420.75,318.5 421.00,317.7 421.25,317.8 421.50,317.1 421.75,317.6 422.00,317.7 422.25,318.0 422.50,318.0 422.75,317.7 423.00,317.5 423.25,317.6 423.50,318.0 423.75,318.0 424.00,317.8 424.25,317.5 424.50,317.3 424.75,317.2 425.00,317.2 425.25,317.2 425.50,317.2 425.75,316.8 426.00,317.4 426.25,317.5 426.50,318.0 426.75,317.9 427.00,317.7 427.25,317.5 427.50,317.5 427.75,317.3 428.00,317.3 428.25,317.8 428.50,317.9 428.75,317.7 429.00,318.0 429.25,317.7 429.51,316.8 429.76,316.9 430.01,316.8 430.26,316.6 430.52,316.5 430.77,316.4 431.02,315.9 431.28,316.4 431.53,316.4 431.78,317.1 432.04,316.9 432.29,317.0 432.54,316.3 432.79,316.6 433.05,316.2 433.30,316.3 433.55,316.6 433.81,316.7 434.06,316.3 434.31,316.0 434.56,316.2 434.82,316.4 435.07,316.6 435.32,316.5 435.58,316.1 435.83,316.5 436.08,316.1 436.34,316.2 436.59,316.0 436.84,315.4 437.09,315.1 437.35,315.4 437.60,315.2 437.85,315.3 438.10,315.2 438.34,315.2 438.59,315.4 438.84,315.4 439.09,315.3 439.33,314.7 439.58,314.9 439.83,315.0 440.08,315.1 440.33,315.4 440.57,315.2 440.82,315.4 441.07,315.0 441.32,315.1 441.56,315.0 441.81,314.6 442.06,314.5 442.31,314.0 442.55,314.0 442.80,313.9 443.05,314.0 443.30,314.0 443.55,313.7 443.79,313.7 444.04,313.1 444.29,313.4 444.54,313.7 444.78,314.0 445.03,314.2 445.28,314.1 445.53,314.0 445.77,313.8 446.02,313.6 446.27,313.5 446.52,314.0 446.77,313.4 447.01,313.2 447.26,313.3 447.51,312.9 447.76,313.2 448.00,312.8 448.25,313.0 448.50,313.3 448.75,313.7 449.00,313.8 449.24,313.9 449.49,313.9 449.74,313.9 449.99,313.2 450.23,313.1 450.48,313.3 450.73,312.9 450.98,312.5 451.23,312.5 451.47,312.7 451.72,312.3 451.97,312.5 452.22,313.0 452.46,312.8 452.71,312.9 452.96,313.1 453.21,312.8 453.45,313.0 453.70,312.9 453.95,312.5 454.20,312.7 454.45,312.8 454.69,312.3 454.94,312.7 455.19,312.5 455.44,312.1 455.68,311.8 455.93,311.7 456.18,312.0 456.43,312.0 456.67,312.1 456.92,311.7 457.17,311.8 457.42,311.5 457.67,311.5 457.91,311.9 458.16,312.2 458.41,312.1 458.66,312.2 458.90,312.4 459.15,312.4 459.40,312.9 459.65,313.6 459.91,314.5 460.16,313.4 460.41,313.4 460.66,313.7 460.92,313.1 461.17,312.8 461.42,313.0 461.67,313.9 461.93,314.2 462.18,314.9 462.43,314.9 462.68,315.1 462.94,315.5 463.19,315.4 463.44,315.1 463.69,315.2 463.95,314.1 464.20,314.3 464.45,314.4 464.70,314.2 464.95,314.1 465.21,314.1 465.46,314.2 465.71,314.0 465.96,314.3 466.21,314.3 466.46,313.9 466.72,314.4 466.97,314.2 467.22,314.4 467.47,313.7 467.72,313.7 467.97,314.0 468.23,314.1 468.48,313.7 468.73,313.2 468.98,312.8 469.23,312.7 469.48,312.4 469.74,312.1 469.99,311.8 470.24,311.6 470.49,311.8 470.74,311.2 470.99,311.3 471.25,311.6 471.50,311.2 471.75,310.9 472.00,311.2 472.25,310.7 472.50,310.4 472.75,310.7 473.00,310.6 473.25,311.2 473.50,311.2 473.75,310.6 474.00,310.9 474.25,311.0 474.50,311.1 474.75,310.9 475.00,310.8 475.25,311.0 475.50,311.3 475.75,311.4 476.00,311.6 476.25,311.0 476.50,311.0 476.75,311.2 477.00,311.5 477.25,311.5 477.50,311.4 477.75,311.1 478.00,311.1 478.25,310.5 478.50,310.5 478.75,310.9 479.00,311.2 479.25,310.5 479.50,310.5 479.75,310.0 480.00,310.4 480.25,310.6 480.50,310.7 480.75,310.3 481.00,309.8 481.25,309.5 481.50,309.5 481.75,309.2 482.00,309.1 482.25,310.0 482.50,309.7 482.75,310.1 483.00,310.4 483.25,310.3 483.50,309.5 483.75,310.0 484.00,309.8 484.25,309.8 484.50,310.4 484.75,310.7 485.00,310.7 485.25,310.4 485.50,310.9 485.75,311.2 486.00,310.9 486.25,310.5 486.50,310.6 486.75,310.0 487.00,310.7 487.25,310.7 487.50,310.5 487.75,310.5 488.00,309.8 488.25,309.8 488.50,309.7 488.75,309.2 489.00,309.4 489.25,309.8 489.50,309.4 489.75,309.5 490.00,309.2 490.25,309.5 490.50,309.1 490.75,309.5 491.00,309.9 491.25,310.2 491.50,310.7 491.75,310.5 492.00,310.3 492.25,310.3 492.50,309.9 492.75,309.3 493.00,308.9 493.25,308.8 493.50,309.0 493.75,309.0 494.00,309.1 494.25,309.5 494.50,309.6 494.75,310.2 495.00,310.4 495.25,309.9 495.50,310.2 495.75,310.2 496.00,310.2 496.25,309.8 496.50,310.2 496.75,310.2 497.00,309.9 497.25,310.0 497.50,309.9 497.75,310.2 498.00,309.6 498.25,309.2 498.50,310.0 498.75,309.9 499.00,310.1 499.25,310.0 499.50,310.0 499.75,310.8 500.00,310.0 500.25,310.2 500.50,310.2 500.75,310.1 501.00,309.8 501.25,309.6 501.50,310.2 501.75,310.4 502.00,309.9 502.25,309.9 502.50,309.6 502.75,310.6 503.00,310.7 503.25,310.0 503.50,310.2 503.75,310.5 504.00,310.6 504.25,310.7 504.50,310.5 504.75,310.4 505.00,309.7 505.25,310.3 505.50,311.0 505.75,311.1 506.00,311.7 506.25,312.1 506.50,311.5 506.75,311.7 507.00,312.5 507.25,312.8 507.50,313.5 507.75,313.4 508.00,313.9 508.25,313.6 508.50,313.7 508.75,313.6 508.99,313.5 509.24,313.3 509.49,313.1 509.74,313.4 509.99,313.0 510.24,311.9 510.48,311.1 510.73,310.9 510.98,310.7 511.23,311.0 511.48,310.6 511.73,310.6 511.97,311.3 512.22,310.8 512.47,311.1 512.72,311.1 512.97,311.4 513.22,311.6 513.46,311.6 513.71,311.6 513.96,311.4 514.21,310.8 514.46,310.8 514.71,310.8 514.95,310.4 515.20,310.4 515.45,309.9 515.70,310.5 515.95,310.8 516.20,311.0 516.46,310.6 516.71,310.9 516.96,310.4 517.21,310.0 517.46,310.1 517.71,310.2 517.97,309.9 518.22,310.4 518.47,309.9 518.72,309.3 518.97,309.4 519.22,310.2 519.48,310.5 519.73,310.5 519.98,310.5 520.23,310.6 520.48,310.7 520.73,310.6 520.99,310.5 521.24,309.8 521.49,310.2 521.74,310.0 521.99,310.2 522.24,310.4 522.50,310.8 522.75,310.3 523.00,310.0 523.25,310.1 523.50,310.5 523.75,310.5 524.00,310.9 524.25,311.0 524.50,311.7 524.75,311.6 525.00,311.2 525.25,311.3 525.50,311.3 525.75,311.7 526.00,312.3 526.25,312.7 526.50,313.0 526.75,312.7 527.00,312.4 527.25,312.4 527.50,312.5 527.75,312.7 528.00,312.8 528.25,313.4 528.50,313.5 528.75,314.1 529.00,313.9 529.25,314.2 529.50,314.4 529.75,314.9 530.00,315.1 530.25,314.2 530.50,313.7 530.75,313.6 531.00,313.2 531.25,312.9 531.50,313.4 531.75,312.9 532.00,313.3 532.25,313.9 532.50,314.1 532.75,313.5 533.00,312.8 533.25,312.6 533.50,313.1 533.75,312.9 534.00,312.4 534.25,312.2 534.50,312.3 534.75,312.4 535.00,312.1 535.25,311.8 535.50,311.8 535.75,311.6 536.00,311.2 536.25,310.5 536.50,310.5 536.75,310.3 537.00,310.2 537.25,310.1 537.50,309.7 537.75,310.2 538.00,310.0 538.25,310.6 538.50,310.8 538.75,310.9 539.00,310.6 539.25,310.4 539.50,310.2 539.75,310.6 540.00,310.1 540.25,309.7 540.50,309.8 540.75,310.0 541.00,309.9 541.25,309.8 541.50,309.5 541.75,309.5 542.00,309.2 542.25,309.7 542.50,309.7 542.75,309.8 543.00,309.2 543.25,309.3 543.50,309.7 543.75,309.4 544.00,309.1 544.25,309.1 544.50,309.1 544.75,309.3 545.00,308.9 545.25,309.2 545.50,309.4 545.75,309.5 546.00,309.2 546.25,309.2 546.50,309.7 546.75,310.0 547.00,309.5 547.25,310.0 547.50,309.9 547.75,309.3 548.00,309.7 548.25,309.7 548.50,310.4 548.75,309.9 549.00,309.7 549.25,309.8 549.50,309.7 549.75,309.3 550.01,309.3 550.26,308.9 550.52,308.7 550.77,309.2 551.02,309.4 551.28,308.6 551.53,308.2 551.79,308.0 552.04,308.7 552.30,308.5 552.55,308.4 552.80,308.1 553.06,308.6 553.31,308.7 553.57,307.9 553.82,307.5 554.08,306.8 554.33,306.6 554.58,306.5 554.84,306.1 555.09,306.2 555.35,306.6 555.60,307.2 555.85,306.6 556.09,306.5 556.34,306.6 556.59,306.9 556.84,307.2 557.08,307.9 557.33,307.8 557.58,307.6 557.83,307.6 558.07,307.2 558.32,307.2 558.57,307.2 558.82,307.4 559.06,307.7 559.31,307.4 559.56,307.3 559.81,307.3 560.05,307.4 560.30,307.3 560.55,307.6 560.79,307.5 561.04,306.9 561.29,307.6 561.54,307.0 561.78,307.8 562.03,307.8 562.28,307.9 562.53,307.3 562.77,307.7 563.02,307.5 563.27,307.3 563.52,307.7 563.76,308.0 564.01,308.3 564.26,307.9 564.51,307.6 564.75,308.2 565.00,307.7 565.25,308.0 565.50,307.6 565.75,307.6 566.00,307.4 566.25,307.7 566.50,307.1 566.75,306.7 567.00,306.3 567.25,306.6 567.50,307.2 567.75,307.5 568.00,307.6 568.25,306.8 568.50,307.2 568.75,306.6 569.00,306.8 569.25,306.8 569.50,306.9 569.75,306.7 570.00,306.3 570.25,307.0 570.50,306.0 570.75,305.8 571.00,306.3 571.25,306.2 571.50,306.3 571.75,305.9 572.00,305.3 572.25,305.7 572.50,305.8 572.75,305.9 573.00,306.0 573.25,305.4 573.50,305.1 573.75,305.1 574.00,305.2 574.25,305.6 574.50,305.1 574.75,305.0 575.00,304.9 575.25,304.8 575.50,305.3 575.75,304.9 576.00,304.4 576.25,305.4 576.50,305.6 576.75,305.5 577.01,305.8 577.26,305.5 577.51,304.7 577.76,304.9 578.01,304.2 578.26,303.9 578.51,304.3 578.76,303.5 579.02,303.4 579.27,303.3 579.52,302.8 579.77,302.6 580.02,302.6 580.27,302.8 580.52,302.9 580.77,302.3 581.03,302.3 581.28,301.8 581.53,301.6 581.78,302.2 582.03,301.9 582.28,302.1 582.53,301.9 582.78,302.0 583.04,302.4 583.29,302.5 583.54,302.7 583.79,302.1 584.04,302.5 584.29,302.4 584.54,302.4 584.79,302.0 585.05,301.9 585.30,302.2 585.55,301.9 585.80,301.4 586.05,301.8 586.30,302.2 586.55,301.8 586.80,301.6 587.05,301.6 587.30,301.8 587.55,302.1 587.80,302.1 588.05,301.8 588.30,302.0 588.55,303.1 588.80,302.6 589.05,303.0 589.30,302.4 589.55,302.0 589.80,302.7 590.05,302.9 590.30,303.2 590.55,303.1 590.80,302.6 591.05,302.5 591.30,302.2 591.55,302.5 591.80,302.4 592.05,302.6 592.30,302.1 592.55,301.9 592.80,301.5 593.05,301.3 593.30,301.3 593.55,301.7 593.80,301.8 594.05,302.1 594.30,302.0 594.55,301.0 594.80,300.7 595.05,300.8 595.30,301.4 595.55,301.4 595.80,300.6 596.05,300.7 596.30,300.6 596.55,300.9 596.80,301.1 597.05,301.2 597.30,300.9 597.55,300.6 597.80,300.5 598.05,300.6 598.30,300.7 598.55,300.6 598.80,300.3 599.05,300.8 599.30,301.2 599.55,301.3 599.80,300.8 600.05,300.6 600.30,300.6 600.55,300.8 600.80,301.3 601.05,300.7 601.30,301.1 601.55,300.8 601.79,300.4 602.04,300.0 602.29,299.9 602.54,299.5 602.79,299.9 603.04,300.6 603.29,300.6 603.54,300.9 603.79,300.3 604.04,300.5 604.28,299.9 604.53,299.5 604.78,299.7 605.03,299.5 605.28,300.1 605.53,300.1 605.78,299.9 606.03,299.7 606.28,299.8 606.53,299.9 606.77,299.7 607.02,300.2 607.27,299.9 607.52,299.3 607.77,298.8 608.02,298.7 608.27,298.6 608.52,299.0 608.77,300.0 609.02,299.5 609.26,299.0 609.51,298.9 609.76,298.7 610.01,298.5 610.26,298.9 610.51,299.6 610.76,299.1 611.01,299.2 611.26,299.6 611.51,299.6 611.75,299.4 612.00,299.5 612.25,299.4 612.50,298.8 612.75,298.9 613.00,298.4 613.25,298.6 613.50,297.9 613.74,297.5 613.99,297.1 614.24,297.9 614.49,297.8 614.73,297.6 614.98,296.9 615.23,297.1 615.48,297.5 615.73,297.1 615.97,297.0 616.22,297.1 616.47,297.2 616.72,297.4 616.97,298.0 617.21,297.7 617.46,297.4 617.71,296.9 617.96,297.1 618.20,296.8 618.45,296.7 618.70,296.7 618.95,296.4 619.20,296.2 619.44,296.2 619.69,296.1 619.94,296.0 620.19,295.8 620.43,295.7 620.68,295.9 620.93,295.6 621.18,295.5 621.43,295.4 621.67,295.6 621.92,295.4 622.17,295.2 622.42,295.0 622.67,295.2 622.91,295.2 623.16,295.2 623.41,295.0 623.66,295.4 623.90,295.2 624.15,294.5 624.40,294.6 624.65,294.8 624.91,294.2 625.16,294.1 625.41,294.0 625.66,293.8 625.92,293.2 626.17,293.0 626.42,292.7 626.67,292.7 626.93,292.2 627.18,292.2 627.43,292.2 627.68,291.7 627.94,291.4 628.19,291.4 628.44,291.8 628.69,291.9 628.95,292.4 629.20,291.7 629.44,292.7 629.69,293.0 629.93,293.4 630.17,294.3 630.41,295.2 630.66,295.4 630.90,296.2 631.15,295.8 631.41,296.0 631.66,296.0 631.91,296.1 632.16,295.9 632.42,295.7 632.67,296.0 632.92,295.7 633.17,295.8 633.43,296.1 633.68,295.9 633.93,295.4 634.18,295.1 634.44,295.3 634.69,295.6 634.94,295.2 635.19,295.4 635.45,295.4 635.70,295.1 635.95,295.1 636.21,295.0 636.46,294.8 636.71,295.3 636.96,295.2 637.22,294.8 637.47,294.5 637.72,295.1 637.97,295.4 638.23,295.5 638.48,295.2 638.73,295.4 638.98,295.4 639.24,295.5 639.49,295.1 639.74,295.3 639.99,295.6 640.25,295.2 640.50,295.4 640.75,295.2 641.00,294.9 641.25,294.6 641.50,294.6 641.75,294.8 642.00,294.8 642.25,294.6 642.50,294.7 642.75,294.8 643.00,294.7 643.25,294.7 643.50,295.1 643.75,294.9 644.00,294.7 644.25,295.1 644.50,294.5 644.75,294.0 645.00,294.1 645.25,294.0 645.50,293.9 645.75,293.9 646.00,293.7 646.25,293.9 646.50,293.6 646.75,294.0 647.00,294.2 647.25,294.0 647.50,294.3 647.75,294.3 648.00,294.7 648.25,294.5 648.50,293.9 648.75,293.3 649.00,293.6 649.25,293.4 649.50,293.6 649.75,293.3 650.00,293.1 650.25,293.2 650.50,292.9 650.75,293.3 651.00,293.5 651.25,293.4 651.50,293.4 651.75,292.9 652.00,292.6 652.25,292.7 652.50,292.5 652.75,292.0 653.00,291.9 653.25,291.6 653.50,291.2 653.75,291.2 654.00,291.3 654.25,291.2 654.50,291.1 654.75,290.7 655.00,290.8 655.25,290.9 655.50,290.7 655.75,291.5 656.00,291.2 656.25,291.1 656.50,290.8 656.75,290.7 657.00,290.6 657.25,290.7 657.50,289.8 657.75,290.2 658.00,290.3 658.25,290.3 658.50,289.9 658.75,289.3 659.00,289.0 659.25,289.3 659.50,289.5 659.75,289.4 660.00,289.4 660.24,289.7 660.49,289.5 660.73,289.5 660.98,289.6 661.22,289.2 661.47,289.4 661.71,289.3 661.96,288.8 662.20,288.8 662.45,289.1 662.69,289.2 662.94,290.1 663.19,290.0 663.43,290.2 663.68,290.7 663.93,291.0 664.17,291.2 664.42,291.7 664.67,291.9 664.91,291.8 665.16,291.9 665.41,292.6 665.65,293.1 665.90,293.7 666.15,293.0 666.39,293.5 666.64,293.5 666.88,292.9 667.13,293.1 667.37,293.4 667.62,293.6 667.86,293.7 668.11,293.6 668.35,293.5 668.60,293.4 668.85,293.3 669.09,293.8 669.34,293.5 669.58,293.6 669.83,293.4 670.07,293.0 670.32,293.4 670.56,293.6 670.81,293.3 671.05,293.2 671.30,293.4 671.55,293.7 671.79,294.1 672.04,294.4 672.29,295.0 672.53,295.5 672.78,295.9 673.03,296.1 673.27,297.0 673.52,297.2 673.77,298.0 674.01,298.6 674.26,299.0 674.51,299.0 674.75,299.5 675.00,300.0 675.25,300.0 675.50,299.9 675.74,299.1 675.99,299.2 676.24,299.4 676.49,299.2 676.74,298.8 676.99,298.4 677.23,297.9 677.48,298.2 677.73,297.9 677.98,297.6 678.23,297.3 678.48,297.0 678.72,296.9 678.97,296.6 679.22,296.3 679.47,295.8 679.72,295.4 679.97,294.8 680.21,294.7 680.46,294.9 680.71,294.9 680.96,295.0 681.21,294.7 681.46,294.3 681.70,293.9 681.95,293.4 682.20,292.8 682.45,292.6 682.70,292.8 682.95,292.9 683.20,293.2 683.45,293.0 683.70,292.7 683.95,292.9 684.20,292.8 684.45,292.4 684.70,292.1 684.95,292.3 685.20,292.1 685.45,291.9 685.70,291.6 685.95,291.8 686.20,292.3 686.45,291.5 686.70,291.1 686.95,291.3 687.20,291.4 687.45,291.2 687.70,290.7 687.95,290.2 688.20,290.2 688.45,290.4 688.70,290.5 688.95,291.0 689.20,290.1 689.45,290.1 689.70,289.9 689.95,290.2 690.20,289.8 690.45,290.1 690.70,289.4 690.95,289.5 691.20,289.1 691.45,289.2 691.70,289.2 691.95,289.2 692.20,289.3 692.45,289.8 692.70,290.2 692.95,290.2 693.20,290.3 693.45,290.4 693.70,290.7 693.95,290.8 694.20,291.1 694.45,291.5 694.70,291.6 694.95,291.3 695.20,291.2 695.45,291.2 695.70,291.1 695.95,291.5 696.20,291.4 696.45,291.7 696.70,291.8 696.95,291.4 697.20,291.4 697.44,291.3 697.69,290.8 697.94,290.8 698.19,290.3 698.44,290.2 698.69,290.6 698.93,289.8 699.18,290.1 699.43,289.4 699.68,289.3 699.93,288.7 700.18,288.7 700.42,288.6 700.67,288.5 700.92,288.3 701.17,288.8 701.42,288.9 701.67,288.4 701.91,287.7 702.16,287.7 702.41,287.2 702.66,287.9 702.91,288.3 703.16,288.2 703.40,287.3 703.65,287.0 703.90,286.6 704.15,286.6 704.39,286.7 704.64,287.0 704.88,287.2 705.13,287.2 705.37,287.8 705.62,288.1 705.86,287.8 706.11,288.8 706.35,288.0 706.60,288.5 706.85,288.6 707.09,288.6 707.34,288.6 707.58,288.8 707.83,289.2 708.07,289.5 708.32,289.7 708.56,289.8 708.81,289.9 709.05,290.2 709.30,290.7 709.55,290.0 709.80,289.8 710.06,289.5 710.31,289.3 710.56,289.3 710.81,288.7 711.06,288.2 711.31,288.5 711.57,288.4 711.82,288.0 712.07,287.8 712.32,287.9 712.57,288.0 712.82,287.2 713.08,287.1 713.33,287.6 713.58,287.3 713.83,287.0 714.08,286.9 714.33,286.7 714.59,286.7 714.84,286.5 715.09,286.1 715.34,286.2 715.59,286.2 715.84,286.1 716.10,285.8 716.35,285.4 716.60,285.6 716.85,285.4 717.10,285.3 717.34,285.3 717.59,285.7 717.84,285.4 718.09,285.0 718.34,284.9 718.59,284.7 718.83,284.2 719.08,284.1 719.33,284.1 719.58,284.4 719.83,284.3 720.08,284.2 720.32,283.9 720.57,284.0 720.82,283.5 721.07,283.2 721.32,283.0 721.57,282.8 721.81,282.7 722.06,282.9 722.31,282.9 722.56,282.8 722.81,282.8 723.06,282.5 723.30,282.9 723.55,283.1 723.80,282.9 724.05,282.9 724.30,283.1 724.54,283.3 724.79,283.1 725.04,282.3 725.29,281.9 725.54,281.5 725.79,281.5 726.03,281.8 726.28,281.8 726.53,281.9 726.78,282.7 727.03,281.7 727.28,281.8 727.52,281.4 727.77,280.9 728.02,280.5 728.27,280.3 728.52,280.8 728.77,280.7 729.01,280.9 729.26,280.1 729.51,280.3 729.76,280.1 730.01,280.2 730.26,279.6 730.50,279.5 730.75,279.4 731.00,279.8 731.25,280.0 731.50,279.5 731.75,279.1 732.00,278.6 732.25,278.5 732.50,278.4 732.75,277.9 733.00,277.8 733.25,277.2 733.50,277.0 733.75,277.3 734.00,278.5 734.25,278.9 734.50,280.1 734.75,281.2 735.00,281.8 735.25,283.2 735.50,284.9 735.75,288.2 736.00,291.3 736.25,291.8 736.50,293.1 736.75,296.7 737.00,298.4 737.30,301.1 737.60,302.2 737.83,302.6 738.07,302.0 738.30,301.2 738.53,300.6 738.77,300.7 739.00,299.3 739.25,299.0 739.50,297.6 739.75,296.9 740.00,295.8 740.25,295.8 740.50,294.1 740.75,293.8 741.00,291.4 741.25,291.6 741.50,291.4 741.75,291.9 742.00,290.9 742.25,290.7 742.50,290.5 742.75,288.8 743.00,290.7 743.25,290.4 743.50,290.7 743.75,290.5 744.00,289.9 744.25,289.6 744.50,287.8 744.75,288.2 745.00,288.5 745.25,286.8 745.50,287.7 745.75,287.7 746.00,287.4 746.25,286.9 746.50,286.6 746.75,285.9 747.00,285.2 747.25,284.3 747.50,283.9 747.75,285.5 748.00,284.7 748.25,284.0 748.50,285.3 748.75,283.5 749.00,282.1 749.25,282.3 749.50,282.8 749.75,283.6 750.00,283.5 750.25,282.1 750.50,281.8 750.75,281.4 751.00,281.4 751.25,281.0 751.50,280.2 751.75,280.5 752.00,281.0 752.25,279.7 752.50,278.0 752.75,277.3 753.00,277.9 753.25,278.1 753.50,277.7 753.75,277.5 754.00,276.5 754.25,276.8 754.50,277.1 754.75,278.1 755.00,278.1 755.25,277.3 755.50,278.4 755.75,278.7 756.00,279.8 756.25,278.3 756.50,277.5 756.75,276.4 757.00,277.2 757.25,277.8 757.50,277.7 757.75,278.2 758.00,276.5 758.25,274.7 758.50,275.7 758.75,275.4 759.00,273.9 759.25,275.1 759.50,274.0 759.75,273.5 760.00,273.4 760.25,273.9 760.50,274.4 760.75,274.6 761.00,276.5 761.25,277.1 761.50,276.7 761.75,276.8 762.00,276.6 762.25,276.3 762.50,275.6 762.75,276.1 763.00,275.5 763.25,275.9 763.50,275.7 763.75,275.0 764.00,275.5 764.25,275.4 764.50,274.7 764.75,275.1 765.00,274.9 765.25,275.9 765.49,275.6 765.74,276.5 765.98,277.2 766.23,276.9 766.47,276.8 766.72,276.6 766.96,276.0 767.21,275.3 767.45,275.1 767.70,274.4 767.95,274.9 768.21,273.9 768.46,274.8 768.71,275.1 768.96,275.0 769.22,273.7 769.47,274.1 769.72,274.0 769.97,274.7 770.23,274.1 770.48,273.8 770.73,273.5 770.98,273.5 771.24,273.4 771.49,273.0 771.74,272.7 771.99,272.7 772.25,272.9 772.50,271.6 772.75,271.7 773.00,270.2 773.25,269.6 773.49,269.0 773.74,269.0 773.99,270.3 774.24,270.0 774.49,270.8 774.74,270.4 774.99,270.0 775.24,269.6 775.48,269.3 775.73,270.0 775.98,270.2 776.23,270.2 776.48,270.1 776.73,268.9 776.98,268.1 777.23,266.9 777.47,266.4 777.72,267.2 777.97,266.8 778.22,266.2 778.47,266.1 778.72,265.3 778.97,265.5 779.22,266.3 779.46,267.2 779.71,266.9 779.96,267.2 780.21,267.6 780.46,266.9 780.71,266.5 780.96,266.6 781.21,266.3 781.45,266.2 781.70,266.3 781.95,265.8 782.20,266.4 782.45,264.2 782.70,264.4 782.95,264.3 783.19,264.2 783.44,264.0 783.69,263.5 783.94,263.5 784.19,262.6 784.44,261.5 784.69,262.7 784.94,262.5 785.18,262.0 785.43,263.0 785.68,262.7 785.93,262.6 786.18,263.0 786.43,262.5 786.68,262.6 786.93,261.7 787.17,262.4 787.42,262.3 787.67,263.5 787.92,263.7 788.17,264.3 788.42,263.5 788.67,262.4 788.92,262.6 789.16,262.7 789.41,262.0 789.66,262.2 789.91,261.8 790.16,261.7 790.41,260.4 790.66,260.6 790.91,260.0 791.15,260.2 791.40,259.5 791.65,259.5 791.90,260.0 792.15,259.7 792.41,259.9 792.66,259.9 792.91,259.6 793.16,259.7 793.42,259.2 793.67,259.5 793.92,260.4 794.17,258.9 794.43,259.0 794.68,257.5 794.93,257.6 795.18,256.7 795.44,257.4 795.69,258.9 795.94,257.9 796.19,258.2 796.45,257.3 796.70,257.6 796.95,258.2 797.21,257.5 797.46,256.9 797.71,255.8 797.96,256.5 798.22,256.8 798.47,256.6 798.72,256.9 798.97,255.8 799.23,256.5 799.48,256.5 799.73,255.2 799.98,254.4 800.24,254.3 800.49,255.1 800.74,256.0 800.99,256.1 801.25,256.8 801.50,257.9 801.75,256.7 802.00,257.1 802.25,255.5 802.49,253.8 802.74,253.6 802.99,254.0 803.24,254.8 803.49,254.5 803.74,253.8 803.99,254.5 804.24,252.2 804.48,253.2 804.73,253.5 804.98,252.7 805.23,252.2 805.48,253.5 805.73,251.2 805.98,251.1 806.23,250.2 806.47,250.3 806.72,250.7 806.97,250.9 807.22,251.3 807.47,251.9 807.72,252.3 807.97,251.0 808.22,250.3 808.46,251.3 808.71,251.1 808.96,251.6 809.21,252.2 809.46,249.4 809.71,251.6 809.96,252.0 810.21,252.3 810.45,252.6 810.70,252.6 810.95,252.7 811.20,252.8 811.45,252.1 811.69,251.5 811.94,250.0 812.18,250.4 812.43,251.2 812.68,251.5 812.92,251.7 813.17,252.9 813.42,253.6 813.66,253.4 813.91,255.0 814.15,255.9 814.40,255.4 814.65,254.9 814.90,253.2 815.15,252.8 815.40,252.6 815.65,252.2 815.90,253.0 816.15,253.5 816.40,253.0 816.65,251.4 816.90,251.5 817.15,254.1 817.40,253.0 817.65,252.0 817.90,251.5 818.15,250.5 818.40,250.6 818.65,249.0 818.90,248.9 819.15,249.1 819.40,249.1 819.65,249.6 819.90,249.1 820.15,248.4 820.40,249.0 820.65,248.3 820.90,247.9 821.15,246.7 821.39,246.6 821.64,247.1 821.88,246.5 822.13,246.2 822.38,244.1 822.62,243.7 822.87,245.2 823.12,244.1 823.36,241.8 823.61,242.2 823.85,243.9 824.10,245.3 824.35,245.2 824.59,245.5 824.84,244.7 825.08,244.9 825.33,245.2 825.58,244.6 825.82,243.0 826.07,242.9 826.32,242.6 826.56,241.7 826.81,242.7 827.05,243.2 827.30,242.3 827.55,243.2 827.79,245.0 828.04,245.3 828.28,246.5 828.53,249.6 828.78,249.4 829.02,249.6 829.27,251.4 829.52,252.7 829.76,254.2 830.01,252.8 830.25,250.8 830.50,250.2 830.75,250.1 831.01,249.6 831.26,251.9 831.51,252.1 831.76,252.4 832.02,255.2 832.27,255.4 832.52,255.8 832.77,255.8 833.03,254.9 833.28,254.1 833.53,254.3 833.78,256.0 834.04,255.0 834.29,255.0 834.54,254.8 834.79,255.2 835.05,255.6 835.30,255.9 835.54,255.3 835.79,254.9 836.03,254.6 836.28,255.8 836.52,253.8 836.77,254.2 837.01,252.4 837.26,253.0 837.50,252.5 837.75,251.0 838.00,252.6 838.24,250.7 838.49,250.0 838.73,249.2 838.98,249.2 839.22,247.9 839.47,248.7 839.71,250.2 839.96,251.1 840.20,250.9 840.45,251.5 840.71,250.7 840.96,250.0 841.21,249.2 841.46,248.9 841.72,250.7 841.97,250.8 842.22,251.1 842.47,250.9 842.73,252.0 842.98,254.5 843.23,253.0 843.48,254.9 843.74,255.4 843.99,253.2 844.24,254.7 844.49,255.6 844.75,257.6 845.00,258.1 845.25,258.0 845.51,258.5 845.76,257.9 846.01,258.0 846.26,259.7 846.52,260.2 846.77,258.9 847.02,259.7 847.27,259.9 847.53,259.3 847.78,259.1 848.03,259.4 848.28,260.7 848.54,262.9 848.79,263.4 849.04,265.4 849.29,264.7 849.55,265.3 849.80,266.1 850.04,265.1 850.29,264.6 850.53,264.5 850.78,265.3 851.02,264.8 851.27,265.4 851.51,263.6 851.76,261.2 852.00,262.1 852.25,262.8 852.50,262.5 852.74,261.9 852.99,262.4 853.23,262.5 853.48,263.3 853.72,263.5 853.97,262.6 854.21,262.6 854.46,264.1 854.70,263.9 854.95,264.0 855.21,264.0 855.46,262.1 855.71,261.2 855.96,260.8 856.22,260.2 856.47,257.2 856.72,257.8 856.97,256.6 857.23,256.7 857.48,255.1 857.73,255.5 857.98,255.6 858.24,258.1 858.49,258.0 858.74,257.2 858.99,257.2 859.25,255.0 859.50,255.1 859.75,254.5 859.99,254.5 860.24,257.4 860.48,255.6 860.73,255.5 860.98,257.3 861.22,258.0 861.47,258.2 861.72,260.8 861.96,259.8 862.21,261.8 862.45,260.3 862.70,259.4 862.95,260.4 863.19,261.5 863.44,264.4 863.68,265.0 863.93,265.4 864.18,266.2 864.42,266.2 864.67,265.8 864.92,265.7 865.16,266.8 865.41,267.0 865.65,266.3 865.90,266.6 866.15,265.9 866.41,263.5 866.66,263.2 866.91,263.9 867.17,266.0 867.42,266.5 867.67,266.3 867.92,266.3 868.18,266.4 868.43,267.7 868.68,266.8 868.94,265.9 869.19,266.0 869.44,266.2 869.70,265.9 869.95,264.2 870.20,262.4 870.46,262.4 870.71,263.3 870.96,264.7 871.22,264.9 871.47,262.8 871.72,262.4 871.98,260.5 872.23,260.5 872.48,261.8 872.73,261.4 872.99,263.2 873.24,261.6 873.49,261.0 873.75,261.1 874.00,258.3 874.25,257.9 874.49,259.0 874.74,257.6 874.98,258.8 875.23,259.8 875.48,260.1 875.72,260.4 875.97,262.1 876.22,262.9 876.46,262.4 876.71,264.0 876.95,265.8 877.20,264.9 877.45,263.5 877.69,263.5 877.94,263.2 878.18,263.8 878.43,264.3 878.68,263.8 878.92,261.3 879.17,262.1 879.42,262.0 879.66,262.1 879.91,261.9 880.15,261.0 880.40,260.5 880.65,258.9 880.89,257.8 881.14,257.7 881.38,258.7 881.63,258.6 881.88,259.1 882.12,258.5 882.37,258.2 882.62,258.4 882.86,258.4 883.11,257.6 883.35,256.7 883.60,257.3 883.85,257.2 884.09,256.8 884.34,257.8 884.58,258.1 884.83,258.6 885.07,259.0 885.32,260.1 885.56,260.2 885.81,260.8 886.05,259.6 886.29,260.0 886.54,260.5 886.78,260.3 887.03,261.2 887.27,260.9 887.52,260.5 887.76,260.7 888.01,259.8 888.25,259.1 888.50,259.3 888.75,258.5 888.99,260.3 889.24,260.5 889.48,260.1 889.73,259.6 889.98,258.8 890.22,257.5 890.47,258.2 890.72,257.7 890.96,258.6 891.21,258.9 891.45,259.2 891.70,258.7 891.95,258.6 892.19,258.1 892.44,257.6 892.68,256.8 892.93,255.3 893.18,256.2 893.42,255.5 893.67,257.4 893.92,257.4 894.16,255.4 894.41,255.4 894.65,255.9 894.90,255.1 895.15,254.9 895.40,254.6 895.65,254.1 895.90,254.9 896.16,254.5 896.41,254.0 896.66,253.5 896.91,254.2 897.16,254.5 897.41,253.9 897.66,254.3 897.91,253.9 898.16,254.6 898.42,253.3 898.67,251.6 898.92,251.2 899.17,250.7 899.42,250.2 899.67,250.4 899.92,250.8 900.17,250.9 900.42,250.6 900.68,249.7 900.93,251.0 901.18,250.1 901.43,249.2 901.68,248.9 901.93,249.3 902.18,247.9 902.43,248.3 902.68,248.5 902.94,248.3 903.19,248.1 903.44,249.4 903.69,250.3 903.94,248.9 904.19,248.0 904.44,247.2 904.69,247.0 904.94,246.0 905.20,245.0 905.45,244.8 905.70,244.5 905.95,245.4 906.20,244.6 906.45,245.3 906.69,246.7 906.94,246.9 907.18,247.5 907.43,246.6 907.68,248.0 907.92,247.0 908.17,248.2 908.42,247.8 908.66,245.7 908.91,246.3 909.15,246.4 909.40,246.1 909.65,245.4 909.89,246.3 910.14,246.8 910.38,247.2 910.63,248.6 910.88,248.4 911.12,248.2 911.37,246.9 911.62,247.2 911.86,248.0 912.11,248.9 912.35,249.4 912.60,247.6 912.85,248.0 913.10,249.6 913.34,249.1 913.59,250.5 913.84,251.7 914.09,251.4 914.33,251.5 914.58,251.9 914.83,252.9 915.08,252.2 915.33,250.6 915.57,251.0 915.82,253.2 916.07,252.2 916.32,252.2 916.57,252.2 916.81,252.4 917.06,254.1 917.31,255.0 917.56,253.6 917.80,253.6 918.05,253.6 918.30,253.8 918.55,254.2 918.80,254.4 919.05,252.6 919.30,251.5 919.55,249.8 919.80,248.6 920.05,249.8 920.30,249.7 920.55,250.0 920.80,248.5 921.05,248.3 921.30,246.2 921.55,246.2 921.80,246.7 922.05,247.6 922.30,246.2 922.55,246.1 922.81,245.3 923.06,245.0 923.31,245.7 923.56,245.3 923.82,244.8 924.07,242.8 924.32,241.8 924.57,241.5 924.83,242.0 925.08,242.8 925.33,242.9 925.58,242.5 925.84,242.3 926.09,242.3 926.34,242.8 926.59,242.3 926.85,241.5 927.10,241.0 927.35,240.1 927.59,240.4 927.84,240.1 928.08,239.5 928.33,239.3 928.58,238.5 928.82,239.5 929.07,238.5 929.31,239.4 929.56,238.9 929.80,239.7 930.05,240.5 930.30,240.0 930.54,239.6 930.79,238.6 931.03,238.4 931.28,238.5 931.52,237.7 931.77,237.1 932.02,236.2 932.26,235.2 932.51,235.9 932.75,236.3 933.00,234.9 933.25,234.4 933.50,234.3 933.75,233.9 934.00,232.0 934.25,232.2 934.50,232.6 934.75,231.7 935.00,231.1 935.25,230.6 935.50,231.5 935.75,232.6 936.00,232.9 936.25,231.9 936.50,231.1 936.75,232.0 937.00,233.4 937.25,233.2 937.50,231.9 937.75,229.8 938.00,230.1 938.25,231.0 938.50,230.6 938.75,229.4 939.00,228.5 939.26,228.3 939.51,228.1 939.77,227.3 940.02,227.0 940.28,226.3 940.54,227.8 940.79,227.6 941.05,229.1 941.31,230.1 941.56,230.3 941.82,231.8 942.08,231.6 942.33,230.5 942.59,230.4 942.84,231.1 943.10,232.2 943.35,231.5 943.60,229.9 943.85,229.4 944.10,228.8 944.35,230.1 944.60,229.9 944.85,230.1 945.10,229.7 945.35,228.1 945.60,227.8 945.85,228.1 946.10,228.9 946.35,230.0 946.60,230.0 946.85,230.4 947.10,230.1 947.35,229.3 947.60,229.4 947.85,228.5 948.10,228.0 948.35,226.4 948.60,224.9 948.85,224.8 949.10,224.8 949.35,224.7 949.60,225.0 949.85,224.0 950.10,224.2 950.35,224.8 950.60,224.1 950.85,223.2 951.10,222.4 951.35,222.4 951.60,221.2 951.85,222.0 952.10,222.1 952.35,221.2 952.60,221.0 952.85,221.6 953.10,219.9 953.36,220.4 953.61,220.6 953.87,222.3 954.12,221.9 954.38,222.7 954.64,223.0 954.89,224.1 955.15,224.4 955.41,223.8 955.66,223.9 955.92,224.0 956.18,225.1 956.43,224.0 956.69,226.6 956.94,225.9 957.20,226.7 957.45,228.7 957.70,228.2 957.95,227.9 958.20,227.3 958.45,226.5 958.70,225.0 958.95,225.4 959.20,225.6 959.45,224.8 959.70,223.8 959.95,223.1 960.20,223.9 960.45,224.1 960.70,223.2 960.95,222.9 961.20,222.8 961.45,222.7 961.70,222.4 961.95,222.2 962.20,221.9 962.45,221.5 962.71,221.0 962.96,220.5 963.22,220.7 963.47,221.1 963.72,220.3 963.98,219.2 964.23,218.9 964.48,217.8 964.74,216.8 964.99,216.5 965.25,216.7 965.50,216.0 965.74,215.6 965.99,216.7 966.23,215.9 966.47,215.3 966.71,215.0 966.96,214.7 967.20,213.7 967.44,213.5 967.69,214.0 967.93,214.3 968.17,214.4 968.41,214.3 968.66,214.0 968.90,213.3 969.17,213.9 969.43,214.3 969.70,214.8 969.97,215.0 970.23,215.7 970.50,216.0 970.74,215.5 970.99,214.9 971.23,214.1 971.48,213.9 971.72,213.0 971.96,212.5 972.21,212.9 972.45,212.4 972.69,212.2 972.94,211.1 973.18,211.0 973.42,209.9 973.67,209.0 973.91,208.5 974.16,208.5 974.40,208.4 974.64,208.8 974.89,208.6 975.13,209.6 975.38,210.3 975.62,210.0 975.87,210.5 976.11,211.5 976.36,211.2 976.60,211.5 976.85,211.8 977.11,212.3 977.36,212.3 977.62,212.5 977.87,212.3 978.13,212.7 978.38,212.4 978.64,212.4 978.89,212.5 979.15,213.5 979.40,213.8 979.67,212.1 979.93,211.6 980.20,210.3 980.47,209.4 980.73,208.4 981.00,207.8 981.24,207.7 981.49,207.4 981.73,207.7 981.98,208.2 982.22,207.7 982.46,207.6 982.71,207.0 982.95,206.6 983.19,207.1 983.44,207.1 983.68,207.4 983.92,206.8 984.17,207.1 984.41,207.8 984.66,207.5 984.90,207.3 985.14,207.9 985.39,209.6 985.63,209.6 985.87,210.7 986.11,211.8 986.36,213.1 986.60,213.2 986.84,214.1 987.09,214.9 987.33,215.1 987.58,215.7 987.82,215.5 988.07,216.3 988.31,216.1 988.56,216.7 988.80,217.2 989.04,218.3 989.29,219.0 989.53,219.9 989.78,220.8 990.02,221.6 990.27,222.8 990.51,224.3 990.76,225.1 991.00,226.1 991.30,229.8 991.60,233.7 991.87,231.9 992.13,231.3 992.40,228.9 992.67,228.0 992.93,226.4 993.20,224.6 993.48,223.4 993.75,222.0 994.02,221.2 994.30,219.3"/>
<g class="yl">
<text transform="translate(68,58.3) scale(1.04,1)" text-anchor="end">1200</text>
<text transform="translate(68,108.3) scale(1.04,1)" text-anchor="end">1000</text>
<text transform="translate(68,158.3) scale(1.04,1)" text-anchor="end">800</text>
<text transform="translate(68,208.3) scale(1.04,1)" text-anchor="end">600</text>
<text transform="translate(68,258.3) scale(1.04,1)" text-anchor="end">400</text>
<text transform="translate(68,308.3) scale(1.04,1)" text-anchor="end">200</text>
<text transform="translate(68,358.3) scale(1.04,1)" text-anchor="end">0</text>
</g>
<g class="xl">
<text transform="translate(93.3,384.3) rotate(-45) scale(1.08,1)" text-anchor="end">2007</text>
<text transform="translate(143.6,384.3) rotate(-45) scale(1.08,1)" text-anchor="end">2008</text>
<text transform="translate(193.9,384.3) rotate(-45) scale(1.08,1)" text-anchor="end">2009</text>
<text transform="translate(244.1,384.3) rotate(-45) scale(1.08,1)" text-anchor="end">2010</text>
<text transform="translate(294.4,384.3) rotate(-45) scale(1.08,1)" text-anchor="end">2011</text>
<text transform="translate(344.7,384.3) rotate(-45) scale(1.08,1)" text-anchor="end">2012</text>
<text transform="translate(395.0,384.3) rotate(-45) scale(1.08,1)" text-anchor="end">2013</text>
<text transform="translate(445.3,384.3) rotate(-45) scale(1.08,1)" text-anchor="end">2014</text>
<text transform="translate(495.5,384.3) rotate(-45) scale(1.08,1)" text-anchor="end">2015</text>
<text transform="translate(545.8,384.3) rotate(-45) scale(1.08,1)" text-anchor="end">2016</text>
<text transform="translate(596.1,384.3) rotate(-45) scale(1.08,1)" text-anchor="end">2017</text>
<text transform="translate(646.4,384.3) rotate(-45) scale(1.08,1)" text-anchor="end">2018</text>
<text transform="translate(696.7,384.3) rotate(-45) scale(1.08,1)" text-anchor="end">2019</text>
<text transform="translate(746.9,384.3) rotate(-45) scale(1.08,1)" text-anchor="end">2020</text>
<text transform="translate(797.2,384.3) rotate(-45) scale(1.08,1)" text-anchor="end">2021</text>
<text transform="translate(847.5,384.3) rotate(-45) scale(1.08,1)" text-anchor="end">2022</text>
<text transform="translate(897.8,384.3) rotate(-45) scale(1.08,1)" text-anchor="end">2023</text>
<text transform="translate(948.1,384.3) rotate(-45) scale(1.08,1)" text-anchor="end">2024</text>
</g>
<line x1="139" y1="464.4" x2="169" y2="464.4" stroke="#8e463e" stroke-width="3"/>
<text class="lg" x="181" y="468">ブルームバーグ米国スピンオフ指数</text>
<line x1="588.5" y1="464.3" x2="623" y2="464.3" stroke="#9bb0c8" stroke-width="3"/>
<text class="lg" x="634" y="468"><tspan font-weight="bold" dy="-1">S</tspan><tspan>＆</tspan><tspan font-weight="bold">P500</tspan><tspan dy="1">トータルリターン指数</tspan></text>
</svg>
</body></html>
